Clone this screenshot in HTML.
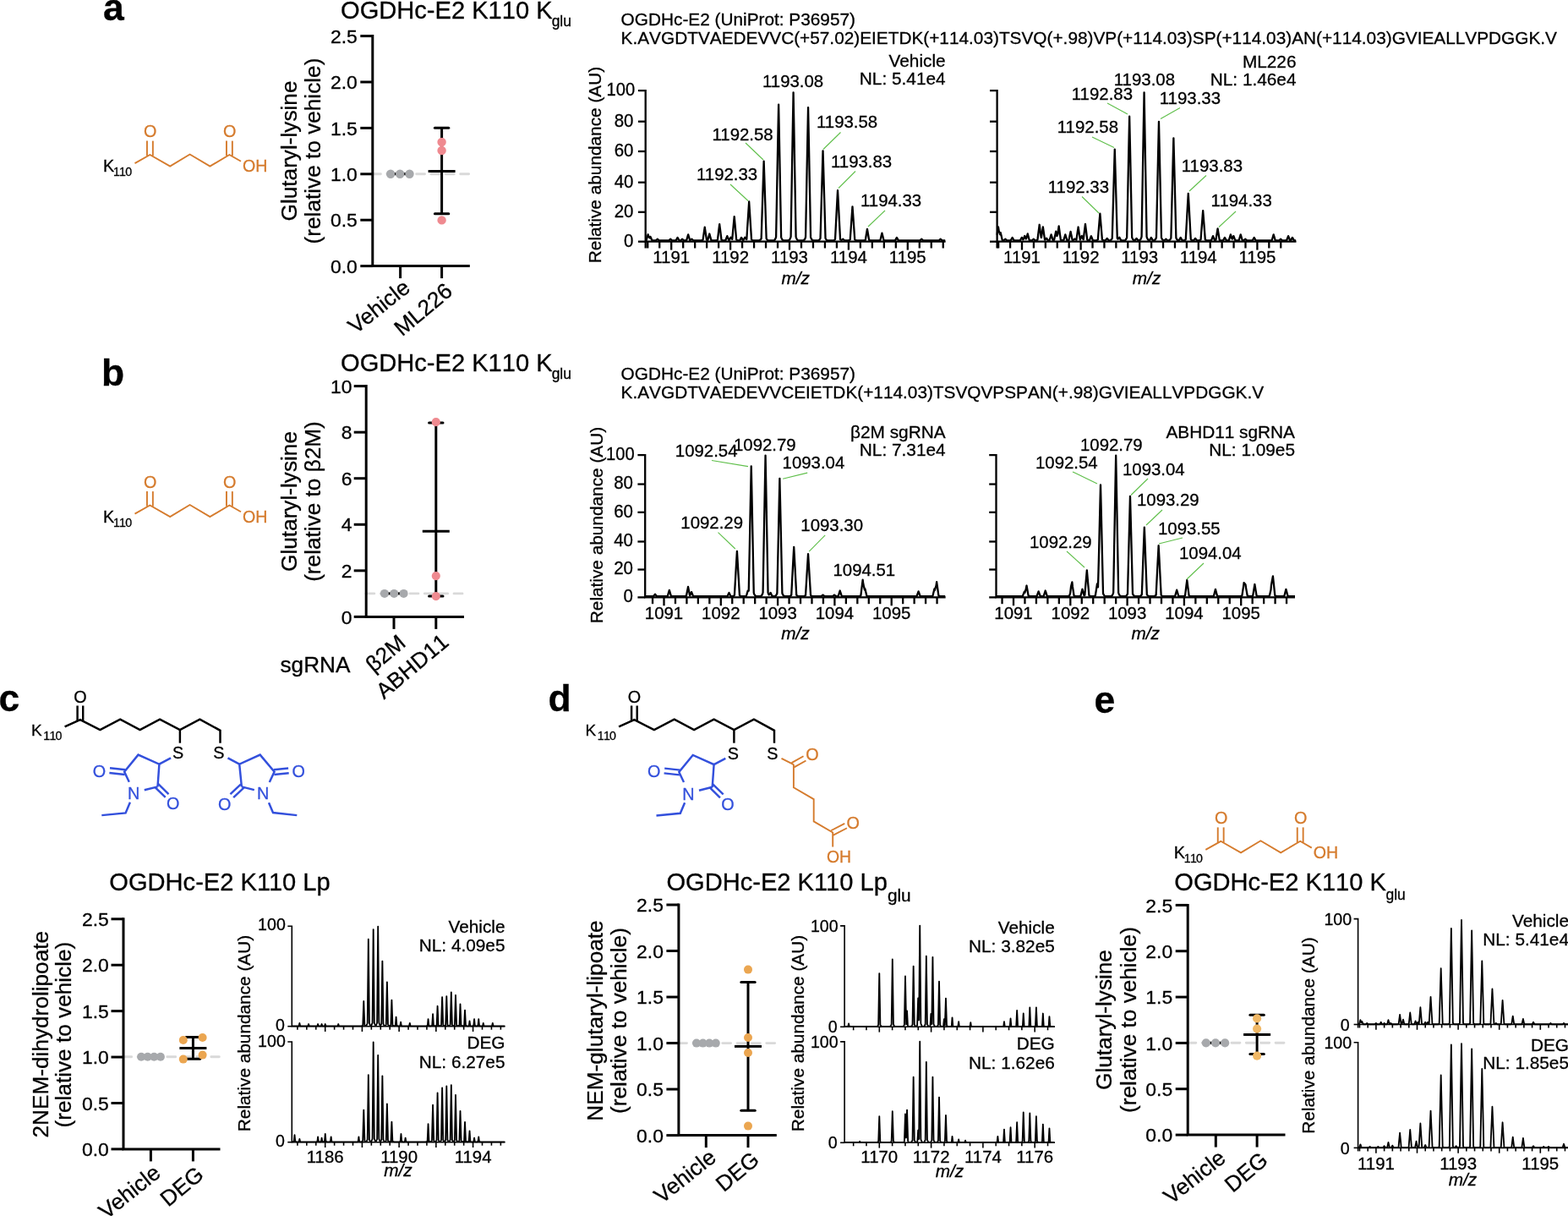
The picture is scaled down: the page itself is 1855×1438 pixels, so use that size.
<!DOCTYPE html>
<html lang="en"><head><meta charset="utf-8"><title>Figure</title>
<style>
html,body{margin:0;padding:0;background:#fff;}
body{width:1855px;height:1438px;overflow:hidden;}
svg{display:block;font-family:"Liberation Sans",sans-serif;font-kerning:none;}
text{stroke-width:0.3px;}
</style></head><body>
<svg width="1855" height="1438" viewBox="0 0 1855 1438">
<rect width="1855" height="1438" fill="#fff"/>
<text x="122.1" y="23.9" font-size="44.5" font-weight="bold" stroke="#000">a</text>
<text x="120.1" y="456" font-size="44.5" font-weight="bold" stroke="#000">b</text>
<text x="-1.5" y="841.2" font-size="44.5" font-weight="bold" stroke="#000">c</text>
<text x="648.5" y="841.2" font-size="44.5" font-weight="bold" stroke="#000">d</text>
<text x="1294.5" y="842.6" font-size="44.5" font-weight="bold" stroke="#000">e</text>
<g transform="translate(0 0)">
<text x="122" y="203" font-size="19.8" stroke="#000">K<tspan font-size="14.2" dy="5.2" dx="-1.3" letter-spacing="-0.7">110</tspan></text>
<path d="M159.5 193.1 L177.4 183 L201.2 196.6 L224.6 182.5 L248.4 196.6 L271.4 183 L285 190.8" fill="none" stroke="#d57b2d" stroke-width="1.9" stroke-linejoin="miter" stroke-linecap="butt"/>
<line x1="173.95" y1="166.6" x2="173.95" y2="184.3" stroke="#d57b2d" stroke-width="1.9"/>
<line x1="180.85" y1="166.6" x2="180.85" y2="184.3" stroke="#d57b2d" stroke-width="1.9"/>
<text x="177.8" y="162.1" font-size="19.8" text-anchor="middle" fill="#d57b2d" stroke="#d57b2d">O</text>
<line x1="267.95" y1="166.6" x2="267.95" y2="184.3" stroke="#d57b2d" stroke-width="1.9"/>
<line x1="274.85" y1="166.6" x2="274.85" y2="184.3" stroke="#d57b2d" stroke-width="1.9"/>
<text x="271.8" y="162.1" font-size="19.8" text-anchor="middle" fill="#d57b2d" stroke="#d57b2d">O</text>
<text x="287" y="203" font-size="19.6" fill="#d57b2d" stroke="#d57b2d">OH</text>
</g>
<line x1="440.51" y1="205.7" x2="554.6" y2="205.7" stroke="#d9d9d9" stroke-width="2.9" stroke-linecap="round" stroke-dasharray="9.93 7.43"/>
<path d="M440.8 41.1 V314.6 H555.8" fill="none" stroke="#000" stroke-width="3" stroke-linejoin="miter" stroke-linecap="butt"/>
<line x1="426.3" y1="42.6" x2="440.8" y2="42.6" stroke="#000" stroke-width="3"/>
<text x="422.8" y="50.8" font-size="22.9" text-anchor="end" stroke="#000">2.5</text>
<line x1="426.3" y1="97" x2="440.8" y2="97" stroke="#000" stroke-width="3"/>
<text x="422.8" y="105.2" font-size="22.9" text-anchor="end" stroke="#000">2.0</text>
<line x1="426.3" y1="151.4" x2="440.8" y2="151.4" stroke="#000" stroke-width="3"/>
<text x="422.8" y="159.6" font-size="22.9" text-anchor="end" stroke="#000">1.5</text>
<line x1="426.3" y1="205.8" x2="440.8" y2="205.8" stroke="#000" stroke-width="3"/>
<text x="422.8" y="214" font-size="22.9" text-anchor="end" stroke="#000">1.0</text>
<line x1="426.3" y1="260.2" x2="440.8" y2="260.2" stroke="#000" stroke-width="3"/>
<text x="422.8" y="268.4" font-size="22.9" text-anchor="end" stroke="#000">0.5</text>
<line x1="426.3" y1="314.6" x2="440.8" y2="314.6" stroke="#000" stroke-width="3"/>
<text x="422.8" y="322.8" font-size="22.9" text-anchor="end" stroke="#000">0.0</text>
<line x1="473.6" y1="314.6" x2="473.6" y2="329.1" stroke="#000" stroke-width="3"/>
<text x="486.8" y="343.1" font-size="26.2" text-anchor="end" transform="rotate(-38.6 486.8 343.1)" stroke="#000" style="font-kerning:normal">Vehicle</text>
<line x1="522.6" y1="314.6" x2="522.6" y2="329.1" stroke="#000" stroke-width="3"/>
<text x="537" y="347" font-size="26.2" text-anchor="end" transform="rotate(-40 537 347)" stroke="#000">ML226</text>
<text x="351" y="178.5" font-size="26.2" text-anchor="middle" transform="rotate(-90 351 178.5)" stroke="#000">Glutaryl-lysine</text>
<text x="378.6" y="178.5" font-size="26.2" text-anchor="middle" transform="rotate(-90 378.6 178.5)" stroke="#000">(relative to vehicle)</text>
<text x="403" y="21.5" font-size="29.1" stroke="#000">OGDHc-E2 K110 K<tspan font-size="17.5" dy="9" dx="-1">glu</tspan></text>
<line x1="462.1" y1="205.7" x2="484.5" y2="205.7" stroke="#000" stroke-width="3"/>
<circle cx="462.1" cy="205.7" r="5.2" fill="#a7a9ac"/>
<circle cx="473.2" cy="205.7" r="5.2" fill="#a7a9ac"/>
<circle cx="484.5" cy="205.7" r="5.2" fill="#a7a9ac"/>
<line x1="522.6" y1="151.3" x2="522.6" y2="252.8" stroke="#000" stroke-width="3"/>
<line x1="514.4" y1="151.3" x2="530.8" y2="151.3" stroke="#000" stroke-width="3" stroke-linecap="round"/>
<line x1="514.4" y1="252.8" x2="530.8" y2="252.8" stroke="#000" stroke-width="3" stroke-linecap="round"/>
<line x1="506.6" y1="202.6" x2="538.6" y2="202.6" stroke="#000" stroke-width="3"/>
<circle cx="522.6" cy="168" r="5.2" fill="#ef8a90"/>
<circle cx="522.6" cy="178" r="5.2" fill="#ef8a90"/>
<circle cx="522.6" cy="260.4" r="5.2" fill="#ef8a90"/>
<text x="734.6" y="30.3" font-size="20.8" stroke="#000">OGDHc-E2 (UniProt: P36957)</text>
<text x="734.6" y="52.3" font-size="20.8" stroke="#000">K.AVGDTVAEDEVVC(+57.02)EIETDK(+114.03)TSVQ(+.98)VP(+114.03)SP(+114.03)AN(+114.03)GVIEALLVPDGGK.V</text>
<text x="711.2" y="195" font-size="20.8" text-anchor="middle" transform="rotate(-90 711.2 195)" stroke="#000">Relative abundance (AU)</text>
<path d="M763.7 284.3L764.2 284.22L764.63 284.13L764.7 283.88L765.2 282.17L765.63 280.69L765.7 280.45L766.2 278.76L766.64 277.29L766.7 277.48L767.2 279.07L767.48 279.97L767.64 280.16L767.7 280.23L768.2 280.83L768.46 281.15L768.65 281.39L768.7 281.29L769.2 280.32L769.43 279.87L769.7 280.46L770.2 281.58L770.41 282.05L770.7 282.7L771.2 283.82L771.39 284.25L771.7 284.29L772.2 284.5L775.92 284.5L776.2 284.16L776.7 283.71L776.87 283.56L777.2 283.27L777.7 282.83L777.82 282.73L778.2 283.06L778.7 283.5L778.77 283.56L779.2 283.94L779.7 284.5L791.3 284.5L791.7 284.05L792.2 283.6L792.25 283.56L792.7 283.16L793.2 282.73L793.7 283.16L794.15 283.56L794.2 283.6L794.7 284.05L795.1 284.5L799.2 284.5L799.65 284.32L799.7 284.24L800.2 283.35L800.62 282.62L800.7 282.48L801.2 281.62L801.59 280.96L801.7 281.15L802.2 282L802.56 282.62L802.7 282.86L803.2 283.73L803.52 284.29L803.7 284.31L804.2 284.5L805.28 284.5L805.7 284L806.2 283.57L806.23 283.54L806.7 283.13L807.18 282.72L807.2 282.74L807.7 283.18L808.13 283.55L808.2 283.61L808.7 284.06L809.08 284.5L810.7 284.5L811.2 284.29L811.7 284.22L812.16 284.14L812.2 284.01L812.7 282.31L813.16 280.75L813.2 280.62L813.7 278.95L814.17 277.4L814.2 277.5L814.7 279.13L815.18 280.72L815.2 280.78L815.7 282.46L816.18 284.07L816.2 284.08L816.47 284.11L816.7 283.94L817.2 283.57L817.41 283.41L817.7 283.19L818.2 282.8L818.36 282.67L818.7 282.98L819.2 283.44L819.31 283.54L819.7 283.89L820.2 284.5L829.7 284.5L830.2 284.23L830.7 284.1L831.2 283.93L831.54 283.8L831.7 282.68L832.2 279.16L832.64 276.08L832.7 275.66L833.2 272.22L833.7 268.84L833.74 268.57L834.2 271.63L834.7 275.04L834.84 276.01L835.2 278.5L835.7 281.96L835.94 283.63L836.2 283.71L836.7 283.81L837.2 283.85L837.3 283.86L837.7 282.43L838.2 280.61L838.32 280.18L838.7 278.79L839.2 276.99L839.33 276.52L839.7 277.85L840.2 279.71L840.35 280.27L840.7 281.59L841.2 283.49L841.37 284.12L841.7 284.18L842.2 284.27L842.7 284.5L846.7 284.5L847.2 284.29L847.7 284.17L848.2 284L848.7 283.79L848.94 283.68L849.2 281.51L849.7 277.35L850.08 274.2L850.2 273.22L850.7 269.15L851.2 265.16L851.22 265.05L851.7 268.87L852.2 272.94L852.36 274.25L852.7 277.07L853.2 281.23L853.49 283.64L853.7 283.78L854.2 283.98L854.7 284.15L855.2 284.27L855.7 284.5L857.2 284.5L857.7 284.31L858.2 284.25L858.33 284.23L858.7 283.27L859.2 281.97L859.32 281.66L859.7 280.69L860.2 279.42L860.3 279.17L860.7 280.13L861.2 281.37L861.29 281.6L861.7 282.63L862.2 283.88L862.28 284.07L862.56 284.08L862.7 283.85L863.2 283L863.53 282.42L863.7 282.12L864.2 281.22L864.5 280.66L864.7 280.95L865.2 281.64L865.47 281.99L865.7 282.28L866.2 282.86L866.22 282.88L866.43 280.94L866.7 277.94L867.2 272.37L867.46 269.48L867.7 266.84L868.2 261.39L868.69 256.17L868.7 256.23L869.2 261.6L869.7 267.08L869.93 269.64L870.2 272.65L870.7 278.27L871.16 283.44L871.2 283.46L871.7 283.76L872.2 284L872.7 284.17L873.2 284.28L873.7 284.5L874.7 284.5L875.14 284.31L875.2 284.21L875.7 283.33L876.11 282.61L876.2 282.45L876.7 281.58L877.08 280.93L877.2 281.13L877.7 281.96L878.05 282.55L878.2 282.8L878.7 283.64L879.02 284.17L879.2 284.16L879.34 284.16L879.7 283.54L880.2 282.68L880.31 282.49L880.7 281.79L881.2 280.88L881.27 280.75L881.7 281.36L882.2 282.02L882.24 282.07L882.7 282.6L883.2 283.08L883.21 283.09L883.32 282.98L883.7 276.98L884.2 269.04L884.7 261.09L884.74 260.46L885.2 253.22L885.7 245.5L886.17 238.51L886.2 238.96L886.7 246.52L887.2 254.29L887.59 260.46L887.7 262.21L888.2 270.19L888.7 278.17L889.01 283.09L889.2 283.33L889.7 283.73L890.2 284.02L890.7 284.22L891.2 284.5L897.7 284.5L898.2 284.31L898.7 284.15L899.2 283.86L899.7 283.42L900.2 282.79L900.64 282.07L900.7 280.29L901.2 264.89L901.7 249.38L902.14 235.74L902.2 233.89L902.7 218.58L903.2 203.59L903.64 190.75L903.7 192.36L904.2 207.03L904.7 222.11L905.14 235.62L905.2 237.48L905.7 252.98L906.2 268.47L906.64 282L906.7 282.17L907.2 282.96L907.7 283.54L908.2 283.94L908.7 284.19L909.2 284.5L915.2 284.5L915.7 284.17L916.2 283.87L916.7 283.38L917.2 282.61L917.7 281.51L918.12 280.16L918.2 275.95L918.7 249.49L919.2 222.87L919.62 200.52L919.7 196.28L920.2 170.01L920.7 144.3L921.12 123.58L921.2 127.54L921.7 152.76L922.2 178.68L922.62 200.84L922.7 205.09L923.2 231.71L923.7 258.31L924.12 280.33L924.2 280.57L924.7 281.91L925.2 282.9L925.7 283.57L926.2 283.99L926.7 284.24L927.2 284.5L932.2 284.5L932.7 284.32L933.2 284.13L933.7 283.8L934.2 283.24L934.7 282.39L935.2 281.17L935.59 279.96L935.7 273.77L936.2 244.97L936.7 216L937.09 193.43L937.2 187.09L937.7 158.53L938.2 130.6L938.59 109.38L938.7 115.09L939.2 142.58L939.7 170.81L940.09 193.2L940.2 199.55L940.7 228.52L941.2 257.44L941.59 279.83L941.7 280.31L942.2 281.75L942.7 282.8L943.2 283.51L943.7 283.96L944.2 284.22L944.7 284.5L950.2 284.5L950.7 284.16L951.2 283.85L951.7 283.34L952.2 282.56L952.7 281.44L953.07 280.25L953.2 273.56L953.7 247.66L954.2 221.61L954.57 202.37L954.7 195.63L955.2 169.98L955.7 144.91L956.07 127.11L956.2 133.42L956.7 158.17L957.2 183.57L957.57 202.68L957.7 209.43L958.2 235.48L958.7 261.47L959.07 280.42L959.2 280.81L959.7 282.08L960.2 283.01L960.7 283.64L961.2 284.03L961.7 284.26L962.2 284.5L967.7 284.5L968.2 284.26L968.7 284.05L969.2 283.7L969.7 283.16L970.2 282.4L970.54 281.75L970.7 276.26L971.2 258.79L971.7 241.23L972.04 229.3L972.2 223.72L972.7 206.44L973.2 189.56L973.54 178.37L973.7 183.47L974.2 200.18L974.7 217.32L975.04 229.16L975.2 234.77L975.7 252.33L976.2 269.85L976.54 281.67L976.7 282.06L977.2 282.9L977.7 283.52L978.2 283.94L978.7 284.19L979.2 284.5L985.7 284.5L986.2 284.24L986.7 284.04L987.2 283.73L987.7 283.3L988.02 282.9L988.2 279.41L988.7 269.66L989.2 259.85L989.52 253.58L989.7 250.08L990.2 240.44L990.7 231.03L991.02 225.26L991.2 228.55L991.7 237.89L992.2 247.47L992.52 253.69L992.7 257.21L993.2 267.01L993.7 276.78L994.02 282.93L994.2 283.12L994.7 283.57L995.2 283.89L995.41 283.98L995.7 283.84L996.2 283.54L996.36 283.42L996.7 283.17L997.2 282.78L997.31 282.7L997.7 283.05L998.2 283.5L998.26 283.56L998.7 283.95L999.2 284.5L1003.2 284.5L1003.7 284.32L1004.2 284.18L1004.7 283.97L1005.2 283.67L1005.7 283.29L1005.77 283.22L1006.2 276.99L1006.7 269.71L1007.13 263.48L1007.2 262.47L1007.7 255.32L1008.2 248.32L1008.49 244.35L1008.7 247.16L1009.2 254.13L1009.7 261.26L1009.85 263.42L1010.2 268.49L1010.7 275.77L1011.2 283.02L1011.21 283.16L1011.7 283.61L1012.2 283.92L1012.7 284.15L1013.2 284.3L1013.7 284.5L1021.7 284.5L1022.2 284.31L1022.7 284.21L1023.2 284.08L1023.7 283.93L1023.81 283.89L1024.2 281.52L1024.7 278.45L1024.89 277.29L1025.2 275.42L1025.7 272.44L1025.97 270.89L1026.2 272.24L1026.7 275.21L1027.04 277.27L1027.2 278.24L1027.7 281.31L1028.12 283.89L1028.2 283.92L1028.7 284.07L1029.2 284.2L1029.7 284.31L1030.2 284.5L1039.7 284.5L1040.2 284.31L1040.7 284.22L1041.2 284.12L1041.39 284.08L1041.7 282.79L1042.2 280.71L1042.42 279.8L1042.7 278.64L1043.2 276.62L1043.44 275.66L1043.7 276.68L1044.2 278.71L1044.47 279.82L1044.7 280.77L1045.2 282.86L1045.49 284.07L1045.7 284.13L1046.2 284.23L1046.7 284.31L1047.2 284.5L1058.7 284.5L1058.98 284.32L1059.2 283.94L1059.7 283.06L1059.95 282.62L1060.2 282.18L1060.7 281.33L1060.92 280.97L1061.2 281.44L1061.7 282.3L1061.88 282.61L1062.2 283.17L1062.7 284.05L1062.85 284.32L1063.2 284.5L1088.38 284.5L1088.7 284.12L1089.2 283.67L1089.33 283.56L1089.7 283.23L1090.2 282.79L1090.28 282.73L1090.7 283.1L1091.2 283.54L1091.22 283.56L1091.7 283.98L1092.17 284.5L1110.74 284.5L1111.2 284L1111.69 283.56L1111.7 283.55L1112.2 283.11L1112.64 282.73L1112.7 282.78L1113.2 283.21L1113.59 283.56L1113.7 283.66L1114.2 284.1L1114.54 284.5L1118.2 284.5" fill="none" stroke="#000" stroke-width="2.3" stroke-linejoin="round"/>
<path d="M754.9 107.2 H763.7 V285.7 H1118.6" fill="none" stroke="#000" stroke-width="2.3" stroke-linejoin="miter" stroke-linecap="butt"/>
<line x1="754.9" y1="285.7" x2="763.7" y2="285.7" stroke="#000" stroke-width="2.3"/>
<line x1="763.7" y1="285.7" x2="763.7" y2="293.5" stroke="#000" stroke-width="2.3"/>
<line x1="754.9" y1="250.8" x2="763.7" y2="250.8" stroke="#000" stroke-width="2.3"/>
<line x1="754.9" y1="215.7" x2="763.7" y2="215.7" stroke="#000" stroke-width="2.3"/>
<line x1="754.9" y1="179" x2="763.7" y2="179" stroke="#000" stroke-width="2.3"/>
<line x1="754.9" y1="143.7" x2="763.7" y2="143.7" stroke="#000" stroke-width="2.3"/>
<text x="749.5" y="291.6" font-size="21.2" text-anchor="end" stroke="#000" style="font-kerning:normal" textLength="11.4" lengthAdjust="spacingAndGlyphs">0</text>
<text x="749.5" y="256.7" font-size="21.2" text-anchor="end" stroke="#000" style="font-kerning:normal" textLength="22.8" lengthAdjust="spacingAndGlyphs">20</text>
<text x="749.5" y="221.6" font-size="21.2" text-anchor="end" stroke="#000" style="font-kerning:normal" textLength="22.8" lengthAdjust="spacingAndGlyphs">40</text>
<text x="749.5" y="184.9" font-size="21.2" text-anchor="end" stroke="#000" style="font-kerning:normal" textLength="22.8" lengthAdjust="spacingAndGlyphs">60</text>
<text x="749.5" y="149.6" font-size="21.2" text-anchor="end" stroke="#000" style="font-kerning:normal" textLength="22.8" lengthAdjust="spacingAndGlyphs">80</text>
<text x="751.1" y="113.1" font-size="21.2" text-anchor="end" stroke="#000" style="font-kerning:normal" textLength="33.6" lengthAdjust="spacingAndGlyphs">100</text>
<line x1="766.24" y1="285.7" x2="766.24" y2="293.5" stroke="#000" stroke-width="2.3"/>
<line x1="780.22" y1="285.7" x2="780.22" y2="293.5" stroke="#000" stroke-width="2.3"/>
<line x1="794.2" y1="285.7" x2="794.2" y2="295.6" stroke="#000" stroke-width="2.3"/>
<line x1="808.18" y1="285.7" x2="808.18" y2="293.5" stroke="#000" stroke-width="2.3"/>
<line x1="822.16" y1="285.7" x2="822.16" y2="293.5" stroke="#000" stroke-width="2.3"/>
<line x1="836.14" y1="285.7" x2="836.14" y2="293.5" stroke="#000" stroke-width="2.3"/>
<line x1="850.12" y1="285.7" x2="850.12" y2="293.5" stroke="#000" stroke-width="2.3"/>
<line x1="864.1" y1="285.7" x2="864.1" y2="295.6" stroke="#000" stroke-width="2.3"/>
<line x1="878.08" y1="285.7" x2="878.08" y2="293.5" stroke="#000" stroke-width="2.3"/>
<line x1="892.06" y1="285.7" x2="892.06" y2="293.5" stroke="#000" stroke-width="2.3"/>
<line x1="906.04" y1="285.7" x2="906.04" y2="293.5" stroke="#000" stroke-width="2.3"/>
<line x1="920.02" y1="285.7" x2="920.02" y2="293.5" stroke="#000" stroke-width="2.3"/>
<line x1="934" y1="285.7" x2="934" y2="295.6" stroke="#000" stroke-width="2.3"/>
<line x1="947.98" y1="285.7" x2="947.98" y2="293.5" stroke="#000" stroke-width="2.3"/>
<line x1="961.96" y1="285.7" x2="961.96" y2="293.5" stroke="#000" stroke-width="2.3"/>
<line x1="975.94" y1="285.7" x2="975.94" y2="293.5" stroke="#000" stroke-width="2.3"/>
<line x1="989.92" y1="285.7" x2="989.92" y2="293.5" stroke="#000" stroke-width="2.3"/>
<line x1="1003.9" y1="285.7" x2="1003.9" y2="295.6" stroke="#000" stroke-width="2.3"/>
<line x1="1017.88" y1="285.7" x2="1017.88" y2="293.5" stroke="#000" stroke-width="2.3"/>
<line x1="1031.86" y1="285.7" x2="1031.86" y2="293.5" stroke="#000" stroke-width="2.3"/>
<line x1="1045.84" y1="285.7" x2="1045.84" y2="293.5" stroke="#000" stroke-width="2.3"/>
<line x1="1059.82" y1="285.7" x2="1059.82" y2="293.5" stroke="#000" stroke-width="2.3"/>
<line x1="1073.8" y1="285.7" x2="1073.8" y2="295.6" stroke="#000" stroke-width="2.3"/>
<line x1="1087.78" y1="285.7" x2="1087.78" y2="293.5" stroke="#000" stroke-width="2.3"/>
<line x1="1101.76" y1="285.7" x2="1101.76" y2="293.5" stroke="#000" stroke-width="2.3"/>
<line x1="1115.74" y1="285.7" x2="1115.74" y2="293.5" stroke="#000" stroke-width="2.3"/>
<text x="794.2" y="311.2" font-size="20.4" text-anchor="middle" stroke="#000" style="font-kerning:normal">1191</text>
<text x="864.1" y="311.2" font-size="20.4" text-anchor="middle" stroke="#000" style="font-kerning:normal">1192</text>
<text x="934" y="311.2" font-size="20.4" text-anchor="middle" stroke="#000" style="font-kerning:normal">1193</text>
<text x="1003.9" y="311.2" font-size="20.4" text-anchor="middle" stroke="#000" style="font-kerning:normal">1194</text>
<text x="1073.8" y="311.2" font-size="20.4" text-anchor="middle" stroke="#000" style="font-kerning:normal">1195</text>
<text x="941.15" y="335.7" font-size="20.8" text-anchor="middle" font-style="italic" stroke="#000">m/z</text>
<text x="842.5" y="165.7" font-size="20.4" stroke="#000" style="font-kerning:normal">1192.58</text>
<text x="824" y="213.2" font-size="20.4" stroke="#000" style="font-kerning:normal">1192.33</text>
<text x="902" y="103.2" font-size="20.4" stroke="#000" style="font-kerning:normal">1193.08</text>
<text x="966" y="151.2" font-size="20.4" stroke="#000" style="font-kerning:normal">1193.58</text>
<text x="983" y="197.7" font-size="20.4" stroke="#000" style="font-kerning:normal">1193.83</text>
<text x="1018" y="243.7" font-size="20.4" stroke="#000" style="font-kerning:normal">1194.33</text>
<line x1="882" y1="169" x2="903" y2="189" stroke="#5fbf4a" stroke-width="1.1"/>
<line x1="864" y1="218" x2="885" y2="237.5" stroke="#5fbf4a" stroke-width="1.1"/>
<line x1="974" y1="176.5" x2="994.5" y2="156.5" stroke="#5fbf4a" stroke-width="1.1"/>
<line x1="992" y1="222.5" x2="1012" y2="202.5" stroke="#5fbf4a" stroke-width="1.1"/>
<line x1="1027" y1="268" x2="1047" y2="249" stroke="#5fbf4a" stroke-width="1.1"/>
<text x="1118.6" y="78.8" font-size="20.8" text-anchor="end" stroke="#000" style="font-kerning:normal">Vehicle</text>
<text x="1118.6" y="100.1" font-size="20.8" text-anchor="end" stroke="#000">NL: 5.41e4</text>
<path d="M1179.6 277.8L1179.86 275.96L1180.1 274.27L1180.6 270.78L1180.96 268.3L1181.1 269.21L1181.6 272.49L1181.69 273.09L1182.06 274.12L1182.1 274.23L1182.6 275.65L1182.72 276L1183.1 277.11L1183.16 277.29L1183.6 275.69L1183.74 275.18L1184.1 276.7L1184.6 278.86L1184.77 279.59L1185.1 281.02L1185.6 283.16L1185.79 283.97L1186.1 284.06L1186.6 284.16L1187.1 284.24L1187.41 284.27L1187.6 284.13L1188.1 283.73L1188.36 283.51L1188.6 283.31L1189.1 282.89L1189.31 282.72L1189.6 282.97L1190.1 283.41L1190.26 283.55L1190.6 283.86L1191.1 284.31L1191.21 284.5L1195.6 284.5L1195.73 284.32L1196.1 283.67L1196.6 282.79L1196.7 282.61L1197.1 281.92L1197.6 281.07L1197.66 280.97L1198.1 281.7L1198.6 282.56L1198.63 282.62L1199.1 283.44L1199.6 284.32L1200.1 284.5L1206.6 284.5L1206.86 284.31L1207.1 283.89L1207.6 283L1207.83 282.59L1208.1 282.11L1208.6 281.22L1208.8 280.87L1209.1 281.35L1209.6 282.15L1209.77 282.42L1210.1 282.95L1210.31 283.28L1210.6 283.03L1210.74 282.91L1211.1 281.99L1211.29 281.51L1211.6 280.72L1212.1 279.45L1212.28 278.99L1212.6 279.76L1213.1 280.96L1213.27 281.37L1213.6 282.17L1213.73 282.48L1214.1 282.04L1214.25 281.86L1214.6 280.6L1214.74 280.09L1215.1 278.79L1215.6 277.01L1215.76 276.44L1216.1 277.7L1216.6 279.58L1216.78 280.26L1217.1 281.47L1217.6 283.38L1217.79 284.1L1218.1 284.16L1218.6 284.25L1219.1 284.31L1219.6 284.5L1220.82 284.5L1221.1 284.14L1221.6 283.7L1221.77 283.55L1222.1 283.26L1222.6 282.83L1222.72 282.73L1223.1 283.05L1223.6 283.48L1223.67 283.54L1224.1 283.91L1224.6 284.5L1224.62 284.5L1225.1 284.32L1225.6 284.26L1226.1 284.17L1226.6 284.02L1227.1 283.84L1227.42 283.7L1227.6 282.26L1228.1 278.25L1228.55 274.65L1228.6 274.25L1229.1 270.29L1229.6 266.39L1229.68 265.77L1230.1 268.91L1230.6 272.69L1230.81 274.29L1231.1 276.5L1231.6 280.32L1231.65 280.7L1231.94 281L1232.1 279.95L1232.6 276.64L1232.75 275.65L1233.1 273.33L1233.6 270.05L1233.86 268.41L1234.1 270.04L1234.6 273.49L1234.96 275.99L1235.1 276.96L1235.6 280.46L1236.06 283.67L1236.1 283.68L1236.12 283.68L1236.6 283.22L1237.07 282.74L1237.1 282.71L1237.6 282.17L1238.03 281.69L1238.1 281.78L1238.6 282.48L1238.99 283L1239.1 283.15L1239.6 283.8L1239.95 284.25L1240.1 284.24L1240.6 284.22L1241.1 284.17L1241.59 284.11L1241.6 284.07L1242.1 282.39L1242.59 280.74L1242.6 280.7L1243.1 279.04L1243.6 277.4L1244.1 279.02L1244.6 280.66L1244.61 280.69L1245.1 282.31L1245.6 283.94L1245.61 283.97L1246.1 283.97L1246.6 283.93L1247.08 283.85L1247.1 283.76L1247.6 281.31L1248.1 278.84L1248.12 278.75L1248.6 276.37L1249.1 273.91L1249.17 273.58L1249.6 275.49L1250.1 277.73L1250.21 278.22L1250.43 279.19L1250.6 278.77L1251.1 277.55L1251.26 277.15L1251.54 275.17L1251.6 274.75L1252.1 271.26L1252.6 267.82L1252.65 267.51L1253.1 270.74L1253.6 274.39L1253.76 275.56L1254.1 278.06L1254.6 281.76L1254.87 283.75L1255.1 283.84L1255.6 284.01L1256.1 284.13L1256.6 284.21L1257.1 284.23L1257.6 284.21L1258.1 284.16L1258.29 284.13L1258.6 283.09L1259.1 281.4L1259.3 280.73L1259.6 279.73L1260.1 278.08L1260.3 277.43L1260.6 278.37L1261.1 280.02L1261.31 280.72L1261.6 281.68L1262.1 283.35L1262.32 284.07L1262.6 284.09L1263.1 284.1L1263.6 284.07L1264.1 284.01L1264.48 283.94L1264.6 283.36L1265.1 280.92L1265.52 278.87L1265.6 278.48L1266.1 276.08L1266.57 273.88L1266.6 274.02L1267.1 276.38L1267.6 278.79L1267.61 278.84L1268.1 281.23L1268.6 283.68L1268.66 283.95L1269.1 284.04L1269.54 284.12L1269.6 284.07L1270.1 283.7L1270.49 283.39L1270.6 283.3L1271.1 282.86L1271.44 282.54L1271.6 282.66L1272.1 283.01L1272.39 283.2L1272.6 283.33L1273.1 283.61L1273.34 283.74L1273.41 283.71L1273.6 282.41L1274.1 278.91L1274.52 275.99L1274.6 275.43L1275.1 271.99L1275.6 268.61L1275.62 268.53L1276.1 271.74L1276.6 275.14L1276.72 275.96L1277.1 278.57L1277.6 282.03L1277.82 283.52L1278.1 282.89L1278.6 281.75L1278.8 281.28L1279.1 280.57L1279.6 279.35L1279.79 278.87L1280.1 279.61L1280.6 280.79L1280.78 281.2L1281.1 281.92L1281.6 283.02L1281.69 283.21L1281.77 282.75L1282.1 280.04L1282.6 275.95L1282.83 274.08L1283.1 271.89L1283.6 267.88L1283.97 265L1284.1 266.03L1284.6 270.05L1285.1 274.14L1285.11 274.23L1285.6 278.29L1286.1 282.44L1286.25 283.66L1286.6 283.8L1287.1 283.97L1287.6 284.09L1288.1 284.16L1288.6 284.18L1288.95 284.17L1289.1 283.8L1289.6 282.53L1289.94 281.67L1290.1 281.26L1290.6 280L1290.93 279.19L1291.1 279.61L1291.6 280.88L1291.92 281.69L1292.1 282.16L1292.6 283.45L1292.9 284.23L1293.1 284.26L1293.6 284.5L1296.6 284.5L1297.1 284.23L1297.6 284.07L1298.1 283.83L1298.6 283.52L1298.82 283.37L1299.1 279.98L1299.6 273.83L1300.1 267.71L1300.6 261.67L1301.1 255.75L1301.37 252.66L1301.6 255.33L1302.1 261.24L1302.6 267.27L1302.64 267.76L1303.1 273.39L1303.6 279.54L1303.91 283.34L1304.1 283.49L1304.6 283.8L1305.1 284.04L1305.6 284.2L1306.1 284.3L1306.6 284.5L1307.8 284.5L1308.1 283.96L1308.6 283.3L1308.76 283.09L1309.1 282.64L1309.6 282L1309.72 281.85L1310.1 282.33L1310.6 282.99L1310.68 283.09L1311.1 283.64L1311.6 284.3L1311.64 284.5L1312.6 284.5L1313.1 284.29L1313.6 284.16L1314.1 283.91L1314.6 283.5L1315.1 282.89L1315.6 282.03L1315.77 281.62L1316.1 269.96L1316.6 252.15L1317.1 234.3L1317.27 228.24L1317.6 216.56L1318.1 199.11L1318.6 182.12L1318.77 176.59L1319.1 187.63L1319.6 204.78L1320.1 222.32L1320.27 228.35L1320.6 240.1L1321.1 257.93L1321.6 275.66L1321.77 281.58L1322.1 282.19L1322.4 282.66L1322.6 282.59L1323.1 282.26L1323.37 282L1323.6 281.75L1324.1 281.11L1324.34 280.79L1324.6 281.28L1325.1 282.21L1325.3 282.57L1325.6 283.11L1326.1 284.01L1326.27 284.31L1326.6 284.5L1330.1 284.5L1330.6 284.25L1331.1 284.03L1331.6 283.63L1332.1 283.01L1332.6 282.11L1333.1 280.88L1333.17 280.59L1333.6 259.88L1334.1 235.63L1334.6 211.34L1334.67 207.95L1335.1 187.27L1335.6 163.64L1336.1 140.66L1336.17 137.68L1336.6 157.32L1337.1 180.79L1337.6 204.76L1337.67 208.15L1338.1 229.01L1338.6 253.3L1339.1 277.42L1339.17 280.68L1339.6 281.79L1340.1 282.78L1340.6 283.46L1341.1 283.89L1341.6 284.13L1342.1 284.25L1342.6 284.3L1343.1 283.67L1343.56 283.08L1343.6 283.03L1344.1 282.38L1344.52 281.85L1344.6 281.95L1345.1 282.59L1345.48 283.09L1345.6 283.24L1346.1 283.9L1346.44 284.5L1347.1 284.5L1347.6 284.27L1348.1 284.12L1348.6 283.83L1349.1 283.33L1349.6 282.53L1350.1 281.38L1350.57 279.83L1350.6 278.12L1351.1 249.36L1351.6 220.4L1352.07 193.2L1352.1 191.47L1352.6 162.84L1353.1 134.8L1353.57 109.38L1353.6 110.99L1354.1 138.35L1354.6 166.47L1355.07 193.43L1355.1 195.16L1355.6 224.11L1356.1 253.06L1356.57 279.95L1356.6 280.05L1357.1 281.54L1357.6 282.64L1358.1 283.38L1358.6 283.84L1359.1 284.09L1359.6 284.21L1359.98 284.24L1360.1 284.05L1360.6 283.21L1360.95 282.61L1361.1 282.35L1361.6 281.5L1361.92 280.96L1362.1 281.26L1362.6 282.12L1362.89 282.62L1363.1 282.99L1363.6 283.86L1363.86 284.3L1364.1 284.31L1364.6 284.31L1365.1 284.27L1365.6 284.14L1366.1 283.89L1366.6 283.44L1367.1 282.76L1367.6 281.77L1367.97 280.75L1368.1 274.78L1368.6 251.64L1369.1 228.37L1369.47 211.18L1369.6 205.17L1370.1 182.25L1370.6 159.85L1370.97 143.87L1371.1 149.51L1371.6 171.61L1372.1 194.3L1372.47 211.37L1372.6 217.4L1373.1 240.66L1373.6 263.88L1373.97 280.85L1374.1 281.19L1374.6 282.33L1375.1 283.15L1375.6 283.7L1376.1 284.04L1376.6 284.23L1377.1 284.32L1377.42 284.5L1377.6 284.2L1378.1 283.78L1378.37 283.55L1378.6 283.35L1379.1 282.92L1379.32 282.73L1379.6 282.97L1380.1 283.41L1380.27 283.56L1380.6 283.85L1381.1 284.29L1381.22 284.5L1382.1 284.5L1382.6 284.31L1383.1 284.17L1383.6 283.92L1384.1 283.5L1384.6 282.85L1385.1 281.95L1385.37 281.27L1385.6 272.15L1386.1 252.18L1386.6 232.13L1386.87 221.33L1387.1 212.17L1387.6 192.5L1388.1 173.31L1388.37 163.33L1388.6 171.95L1389.1 191.1L1389.6 210.74L1389.87 221.48L1390.1 230.69L1390.6 250.74L1391.1 270.71L1391.37 281.35L1391.6 281.86L1392.1 282.78L1392.6 283.43L1393.1 283.85L1393.6 284.1L1394.1 284.22L1394.6 284.26L1394.78 284.27L1395.1 283.73L1395.6 282.87L1395.75 282.61L1396.1 282.01L1396.6 281.16L1396.72 280.96L1397.1 281.6L1397.6 282.47L1397.69 282.62L1398.1 283.34L1398.6 284.22L1398.66 284.32L1399.1 284.5L1400.1 284.5L1400.6 284.3L1401.1 284.18L1401.6 283.98L1402.1 283.66L1402.6 283.22L1402.77 283.01L1403.1 276.99L1403.6 267.79L1404.1 258.57L1404.27 255.45L1404.6 249.41L1405.1 240.41L1405.6 231.63L1405.77 228.78L1406.1 234.48L1406.6 243.34L1407.1 252.41L1407.27 255.52L1407.6 261.6L1408.1 270.82L1408.6 279.99L1408.77 283.05L1409.1 283.38L1409.6 283.77L1410.1 284.04L1410.6 284.21L1411.1 284.3L1411.6 284.5L1412.2 284.5L1412.6 283.82L1413.1 283.17L1413.16 283.09L1413.6 282.51L1414.1 281.87L1414.12 281.85L1414.6 282.46L1415.08 283.09L1415.1 283.12L1415.6 283.78L1416.04 284.5L1418.1 284.5L1418.6 284.27L1419.1 284.13L1419.6 283.92L1420.1 283.62L1420.55 283.27L1420.6 282.61L1421.1 275.98L1421.6 269.34L1421.86 265.9L1422.1 262.75L1422.6 256.27L1423.1 249.95L1423.17 249.12L1423.6 254.54L1424.1 260.98L1424.48 265.96L1424.6 267.54L1425.1 274.17L1425.6 280.81L1425.79 283.3L1426.1 283.53L1426.6 283.85L1427.1 284.09L1427.6 284.26L1428.1 284.5L1432.1 284.5L1432.6 284.29L1433.03 284.23L1433.1 284.05L1433.6 282.74L1434.01 281.68L1434.1 281.45L1434.6 280.18L1435 279.17L1435.1 279.41L1435.6 280.64L1435.99 281.61L1436.1 281.88L1436.6 283.11L1436.97 284L1437.1 284L1437.6 283.94L1438.1 283.84L1438.4 283.77L1438.6 282.54L1439.1 279.39L1439.49 276.95L1439.6 276.26L1440.1 273.17L1440.57 270.34L1440.6 270.52L1441.1 273.58L1441.6 276.69L1441.65 277.01L1442.1 279.85L1442.6 283.03L1442.73 283.85L1443.1 283.99L1443.6 284.13L1444.1 284.25L1444.6 284.5L1446.6 284.5L1446.98 284.32L1447.1 284.11L1447.6 283.23L1447.95 282.62L1448.1 282.36L1448.6 281.5L1448.92 280.96L1449.1 281.26L1449.6 282.12L1449.89 282.62L1450.1 282.98L1450.6 283.85L1450.86 284.3L1451.1 284.31L1451.6 284.5L1452.1 284.5L1452.6 284.3L1453.1 284.25L1453.6 284.18L1453.87 284.13L1454.1 283.34L1454.6 281.64L1454.87 280.72L1455.1 279.94L1455.6 278.26L1455.88 277.33L1456.1 278.02L1456.6 279.62L1456.89 280.56L1457.1 281.24L1457.39 282.18L1457.6 282.35L1457.89 282.58L1458.1 282.08L1458.37 281.43L1458.6 280.88L1459.1 279.68L1459.36 279.07L1459.6 279.69L1460.1 280.99L1460.35 281.64L1460.6 282.3L1461.1 283.61L1461.33 284.21L1461.6 284.26L1462.1 284.32L1462.6 284.5L1464.1 284.5L1464.6 284.32L1465.1 284.25L1465.6 284.17L1465.7 284.16L1466.1 282.79L1466.6 281.1L1466.71 280.73L1467.1 279.43L1467.6 277.78L1467.71 277.42L1468.1 278.68L1468.6 280.34L1468.72 280.74L1469.1 282.02L1469.6 283.71L1469.72 284.12L1470.1 284.18L1470.6 284.24L1471.1 284.29L1471.38 284.3L1471.6 284.13L1472.1 283.71L1472.33 283.52L1472.6 283.29L1473.1 282.87L1473.28 282.72L1473.6 283L1474.1 283.44L1474.23 283.56L1474.6 283.89L1475.1 284.5L1481.78 284.5L1482.1 283.76L1482.6 282.89L1482.75 282.62L1483.1 282.02L1483.6 281.16L1483.72 280.96L1484.1 281.6L1484.6 282.47L1484.69 282.62L1485.1 283.34L1485.6 284.22L1485.66 284.5L1503.6 284.5L1504.1 284.25L1504.6 284.17L1504.68 284.14L1505.1 282.71L1505.6 281.02L1505.68 280.75L1506.1 279.35L1506.6 277.71L1506.69 277.43L1507.1 278.77L1507.6 280.43L1507.69 280.73L1508.1 282.12L1508.6 283.82L1508.7 284.16L1509.1 284.22L1509.6 284.3L1510.1 284.5L1513.14 284.5L1513.6 284L1514.09 283.56L1514.1 283.55L1514.6 283.11L1515.04 282.73L1515.1 282.78L1515.6 283.22L1515.99 283.56L1516.1 283.66L1516.6 284.11L1516.94 284.5L1521.1 284.5L1521.6 284.3L1522.1 284.24L1522.11 284.24L1522.6 282.97L1523.1 281.68L1523.6 280.4L1524.09 279.18L1524.1 279.2L1524.6 280.44L1525.07 281.63L1525.1 281.7L1525.6 282.97L1526.06 284.13L1526.1 284.14L1526.6 284.17L1527.02 284.18L1527.1 284.05L1527.6 283.22L1527.99 282.56L1528.1 282.37L1528.6 281.54L1528.96 280.94L1529.1 281.18L1529.6 282.04L1529.93 282.62L1530.1 282.92L1530.6 283.8L1530.9 284.32L1531.1 284.5L1533.1 284.5" fill="none" stroke="#000" stroke-width="2.3" stroke-linejoin="round"/>
<path d="M1171 107.2 H1179.6 V285.7 H1533.5" fill="none" stroke="#000" stroke-width="2.3" stroke-linejoin="miter" stroke-linecap="butt"/>
<line x1="1171" y1="285.7" x2="1179.6" y2="285.7" stroke="#000" stroke-width="2.3"/>
<line x1="1179.6" y1="285.7" x2="1179.6" y2="293.5" stroke="#000" stroke-width="2.3"/>
<line x1="1171" y1="250.8" x2="1179.6" y2="250.8" stroke="#000" stroke-width="2.3"/>
<line x1="1171" y1="215.7" x2="1179.6" y2="215.7" stroke="#000" stroke-width="2.3"/>
<line x1="1171" y1="179" x2="1179.6" y2="179" stroke="#000" stroke-width="2.3"/>
<line x1="1171" y1="143.7" x2="1179.6" y2="143.7" stroke="#000" stroke-width="2.3"/>
<line x1="1181.16" y1="285.7" x2="1181.16" y2="293.5" stroke="#000" stroke-width="2.3"/>
<line x1="1195.08" y1="285.7" x2="1195.08" y2="293.5" stroke="#000" stroke-width="2.3"/>
<line x1="1209" y1="285.7" x2="1209" y2="295.6" stroke="#000" stroke-width="2.3"/>
<line x1="1222.92" y1="285.7" x2="1222.92" y2="293.5" stroke="#000" stroke-width="2.3"/>
<line x1="1236.84" y1="285.7" x2="1236.84" y2="293.5" stroke="#000" stroke-width="2.3"/>
<line x1="1250.76" y1="285.7" x2="1250.76" y2="293.5" stroke="#000" stroke-width="2.3"/>
<line x1="1264.68" y1="285.7" x2="1264.68" y2="293.5" stroke="#000" stroke-width="2.3"/>
<line x1="1278.6" y1="285.7" x2="1278.6" y2="295.6" stroke="#000" stroke-width="2.3"/>
<line x1="1292.52" y1="285.7" x2="1292.52" y2="293.5" stroke="#000" stroke-width="2.3"/>
<line x1="1306.44" y1="285.7" x2="1306.44" y2="293.5" stroke="#000" stroke-width="2.3"/>
<line x1="1320.36" y1="285.7" x2="1320.36" y2="293.5" stroke="#000" stroke-width="2.3"/>
<line x1="1334.28" y1="285.7" x2="1334.28" y2="293.5" stroke="#000" stroke-width="2.3"/>
<line x1="1348.2" y1="285.7" x2="1348.2" y2="295.6" stroke="#000" stroke-width="2.3"/>
<line x1="1362.12" y1="285.7" x2="1362.12" y2="293.5" stroke="#000" stroke-width="2.3"/>
<line x1="1376.04" y1="285.7" x2="1376.04" y2="293.5" stroke="#000" stroke-width="2.3"/>
<line x1="1389.96" y1="285.7" x2="1389.96" y2="293.5" stroke="#000" stroke-width="2.3"/>
<line x1="1403.88" y1="285.7" x2="1403.88" y2="293.5" stroke="#000" stroke-width="2.3"/>
<line x1="1417.8" y1="285.7" x2="1417.8" y2="295.6" stroke="#000" stroke-width="2.3"/>
<line x1="1431.72" y1="285.7" x2="1431.72" y2="293.5" stroke="#000" stroke-width="2.3"/>
<line x1="1445.64" y1="285.7" x2="1445.64" y2="293.5" stroke="#000" stroke-width="2.3"/>
<line x1="1459.56" y1="285.7" x2="1459.56" y2="293.5" stroke="#000" stroke-width="2.3"/>
<line x1="1473.48" y1="285.7" x2="1473.48" y2="293.5" stroke="#000" stroke-width="2.3"/>
<line x1="1487.4" y1="285.7" x2="1487.4" y2="295.6" stroke="#000" stroke-width="2.3"/>
<line x1="1501.32" y1="285.7" x2="1501.32" y2="293.5" stroke="#000" stroke-width="2.3"/>
<line x1="1515.24" y1="285.7" x2="1515.24" y2="293.5" stroke="#000" stroke-width="2.3"/>
<text x="1209" y="311.2" font-size="20.4" text-anchor="middle" stroke="#000" style="font-kerning:normal">1191</text>
<text x="1278.6" y="311.2" font-size="20.4" text-anchor="middle" stroke="#000" style="font-kerning:normal">1192</text>
<text x="1348.2" y="311.2" font-size="20.4" text-anchor="middle" stroke="#000" style="font-kerning:normal">1193</text>
<text x="1417.8" y="311.2" font-size="20.4" text-anchor="middle" stroke="#000" style="font-kerning:normal">1194</text>
<text x="1487.4" y="311.2" font-size="20.4" text-anchor="middle" stroke="#000" style="font-kerning:normal">1195</text>
<text x="1356.55" y="335.7" font-size="20.8" text-anchor="middle" font-style="italic" stroke="#000">m/z</text>
<text x="1250.8" y="157" font-size="20.4" stroke="#000" style="font-kerning:normal">1192.58</text>
<text x="1239.8" y="228" font-size="20.4" stroke="#000" style="font-kerning:normal">1192.33</text>
<text x="1267.8" y="118" font-size="20.4" stroke="#000" style="font-kerning:normal">1192.83</text>
<text x="1317.8" y="101" font-size="20.4" stroke="#000" style="font-kerning:normal">1193.08</text>
<text x="1371.8" y="123" font-size="20.4" stroke="#000" style="font-kerning:normal">1193.33</text>
<text x="1397.8" y="203" font-size="20.4" stroke="#000" style="font-kerning:normal">1193.83</text>
<text x="1432.6" y="244.3" font-size="20.4" stroke="#000" style="font-kerning:normal">1194.33</text>
<line x1="1292" y1="162" x2="1318" y2="174.5" stroke="#5fbf4a" stroke-width="1.1"/>
<line x1="1280" y1="232.5" x2="1300" y2="252" stroke="#5fbf4a" stroke-width="1.1"/>
<line x1="1310" y1="122" x2="1334" y2="135" stroke="#5fbf4a" stroke-width="1.1"/>
<line x1="1373" y1="140.5" x2="1396" y2="127.5" stroke="#5fbf4a" stroke-width="1.1"/>
<line x1="1407" y1="226" x2="1427" y2="207.5" stroke="#5fbf4a" stroke-width="1.1"/>
<line x1="1442" y1="268.5" x2="1462" y2="250" stroke="#5fbf4a" stroke-width="1.1"/>
<text x="1533.5" y="79.7" font-size="20.8" text-anchor="end" stroke="#000">ML226</text>
<text x="1533.5" y="100.6" font-size="20.8" text-anchor="end" stroke="#000">NL: 1.46e4</text>
<g transform="translate(0 414.5)">
<text x="122" y="203" font-size="19.8" stroke="#000">K<tspan font-size="14.2" dy="5.2" dx="-1.3" letter-spacing="-0.7">110</tspan></text>
<path d="M159.5 193.1 L177.4 183 L201.2 196.6 L224.6 182.5 L248.4 196.6 L271.4 183 L285 190.8" fill="none" stroke="#d57b2d" stroke-width="1.9" stroke-linejoin="miter" stroke-linecap="butt"/>
<line x1="173.95" y1="166.6" x2="173.95" y2="184.3" stroke="#d57b2d" stroke-width="1.9"/>
<line x1="180.85" y1="166.6" x2="180.85" y2="184.3" stroke="#d57b2d" stroke-width="1.9"/>
<text x="177.8" y="162.1" font-size="19.8" text-anchor="middle" fill="#d57b2d" stroke="#d57b2d">O</text>
<line x1="267.95" y1="166.6" x2="267.95" y2="184.3" stroke="#d57b2d" stroke-width="1.9"/>
<line x1="274.85" y1="166.6" x2="274.85" y2="184.3" stroke="#d57b2d" stroke-width="1.9"/>
<text x="271.8" y="162.1" font-size="19.8" text-anchor="middle" fill="#d57b2d" stroke="#d57b2d">O</text>
<text x="287" y="203" font-size="19.6" fill="#d57b2d" stroke="#d57b2d">OH</text>
</g>
<line x1="432.91" y1="701.9" x2="547.8" y2="701.9" stroke="#d9d9d9" stroke-width="2.9" stroke-linecap="round" stroke-dasharray="9.93 7.43"/>
<path d="M433.2 455.1 V729.4 H549" fill="none" stroke="#000" stroke-width="3" stroke-linejoin="miter" stroke-linecap="butt"/>
<line x1="418.7" y1="456.6" x2="433.2" y2="456.6" stroke="#000" stroke-width="3"/>
<text x="416.5" y="464.8" font-size="22.9" text-anchor="end" stroke="#000">10</text>
<line x1="418.7" y1="511.16" x2="433.2" y2="511.16" stroke="#000" stroke-width="3"/>
<text x="416.5" y="519.36" font-size="22.9" text-anchor="end" stroke="#000">8</text>
<line x1="418.7" y1="565.72" x2="433.2" y2="565.72" stroke="#000" stroke-width="3"/>
<text x="416.5" y="573.92" font-size="22.9" text-anchor="end" stroke="#000">6</text>
<line x1="418.7" y1="620.28" x2="433.2" y2="620.28" stroke="#000" stroke-width="3"/>
<text x="416.5" y="628.48" font-size="22.9" text-anchor="end" stroke="#000">4</text>
<line x1="418.7" y1="674.84" x2="433.2" y2="674.84" stroke="#000" stroke-width="3"/>
<text x="416.5" y="683.04" font-size="22.9" text-anchor="end" stroke="#000">2</text>
<line x1="418.7" y1="729.4" x2="433.2" y2="729.4" stroke="#000" stroke-width="3"/>
<text x="416.5" y="737.6" font-size="22.9" text-anchor="end" stroke="#000">0</text>
<line x1="466" y1="729.4" x2="466" y2="743.9" stroke="#000" stroke-width="3"/>
<text x="481.5" y="762.9" font-size="26.2" text-anchor="end" transform="rotate(-40 481.5 762.9)" stroke="#000">β2M</text>
<line x1="515.8" y1="729.4" x2="515.8" y2="743.9" stroke="#000" stroke-width="3"/>
<text x="532.3" y="761.9" font-size="26.2" text-anchor="end" transform="rotate(-40 532.3 761.9)" stroke="#000">ABHD11</text>
<text x="351" y="593" font-size="26.2" text-anchor="middle" transform="rotate(-90 351 593)" stroke="#000">Glutaryl-lysine</text>
<text x="379.2" y="593" font-size="26.2" text-anchor="middle" transform="rotate(-90 379.2 593)" stroke="#000">(relative to β2M)</text>
<text x="403" y="438.5" font-size="29.1" stroke="#000">OGDHc-E2 K110 K<tspan font-size="17.5" dy="9" dx="-1">glu</tspan></text>
<text x="331.5" y="795.2" font-size="26.2" stroke="#000">sgRNA</text>
<line x1="454.9" y1="701.9" x2="477.6" y2="701.9" stroke="#000" stroke-width="3"/>
<circle cx="454.9" cy="701.9" r="5" fill="#a7a9ac"/>
<circle cx="466.2" cy="701.9" r="5" fill="#a7a9ac"/>
<circle cx="477.6" cy="701.9" r="5" fill="#a7a9ac"/>
<line x1="515.8" y1="500" x2="515.8" y2="704.9" stroke="#000" stroke-width="3"/>
<line x1="507.6" y1="500" x2="524" y2="500" stroke="#000" stroke-width="3" stroke-linecap="round"/>
<line x1="507.6" y1="704.9" x2="524" y2="704.9" stroke="#000" stroke-width="3" stroke-linecap="round"/>
<line x1="499.8" y1="628.3" x2="531.8" y2="628.3" stroke="#000" stroke-width="3"/>
<circle cx="515.8" cy="499.2" r="5.1" fill="#ef8a90"/>
<circle cx="515.8" cy="681.1" r="5.1" fill="#ef8a90"/>
<circle cx="515.8" cy="705.1" r="5.1" fill="#ef8a90"/>
<text x="734.6" y="449.1" font-size="20.8" stroke="#000">OGDHc-E2 (UniProt: P36957)</text>
<text x="734.6" y="470.8" font-size="20.8" stroke="#000">K.AVGDTVAEDEVVCEIETDK(+114.03)TSVQVPSPAN(+.98)GVIEALLVPDGGK.V</text>
<text x="712.7" y="621" font-size="20.8" text-anchor="middle" transform="rotate(-90 712.7 621)" stroke="#000">Relative abundance (AU)</text>
<path d="M763.2 705.2L773.09 705.2L773.2 704.93L773.7 704.3L774.05 703.87L774.2 703.68L774.7 703.07L775 702.7L775.2 702.93L775.7 703.54L775.96 703.87L776.2 704.17L776.7 704.79L776.92 705.2L788.2 705.2L788.7 705.03L789.2 704.95L789.7 704.87L789.8 704.85L790.2 703.46L790.7 701.71L790.82 701.3L791.2 699.99L791.7 698.3L791.83 697.86L792.2 699.1L792.7 700.81L792.84 701.3L793.2 702.55L793.7 704.3L793.86 704.85L794.2 704.91L794.7 704.99L795.2 705.2L810.2 705.2L810.7 704.98L811.2 704.87L811.7 704.75L811.92 704.69L812.2 703.27L812.7 700.7L812.98 699.27L813.2 698.16L813.7 695.65L814.04 693.98L814.2 694.75L814.7 697.19L815.1 699.17L815.2 699.67L815.7 702.16L816.1 704.17L816.15 704.31L816.2 704.22L816.7 703.12L817.09 702.26L817.2 702.02L817.7 700.91L818.08 700.09L818.2 700.38L818.7 701.61L819.06 702.5L819.2 702.84L819.7 704.08L820.05 704.94L820.2 704.96L820.7 705.03L821.2 705.2L859.7 705.2L860.2 705.03L860.54 704.99L860.7 704.66L861.2 703.63L861.52 702.98L861.7 702.62L862.2 701.61L862.5 701.04L862.7 701.43L863.2 702.43L863.47 702.98L863.7 703.45L864.2 704.47L864.45 704.99L864.7 705.01L865.2 705.2L866.2 705.2L866.7 705.02L867.2 704.91L867.7 704.73L868.2 704.44L868.7 704.03L868.92 703.76L869.2 698.87L869.7 690.07L870.2 681.24L870.42 677.37L870.7 672.47L871.2 663.83L871.7 655.4L871.92 651.87L872.2 656.5L872.7 664.96L873.2 673.62L873.42 677.48L873.7 682.41L874.2 691.24L874.7 700.03L874.92 703.82L875.2 704.09L875.7 704.49L876.2 704.77L876.7 704.96L877.2 705.2L881.7 705.2L882.2 704.96L882.7 704.83L882.73 704.82L883.2 703.54L883.7 702.07L883.72 702.01L884.2 700.45L884.7 698.61L885.2 698.8L885.69 698.7L885.7 698.69L885.74 698.67L886.2 676.67L886.68 653.43L886.7 652.41L887.2 627.03L887.24 625.01L887.7 601.87L888.2 577.19L888.7 553.17L888.74 551.29L889.2 573.15L889.7 597.79L890.2 622.95L890.24 624.97L890.7 648.37L891.2 673.82L891.7 699.09L891.74 701.1L892.2 702.44L892.7 703.46L893.2 704.17L893.7 704.63L894.2 704.9L894.7 705.2L899.2 705.2L899.7 705.02L900.2 704.84L900.7 704.51L901.2 703.97L901.7 703.14L902.2 701.97L902.57 700.7L902.7 693.62L903.2 666.2L903.7 638.61L904.07 618.23L904.2 611.1L904.7 583.94L905.2 557.39L905.57 538.55L905.7 545.23L906.2 571.42L906.7 598.32L907.07 618.54L907.2 625.68L907.7 653.25L908.2 680.74L908.57 700.77L908.7 701.17L909.2 702.48L909.67 703.36L909.7 703.35L910.2 702.99L910.65 702.45L910.7 702.38L911.2 701.62L911.62 700.9L911.7 701.06L912.2 702.12L912.6 702.96L912.7 703.16L913.2 704.2L913.58 704.99L913.7 705.01L914.2 705.2L916.2 705.2L916.7 704.99L917.2 704.81L917.7 704.48L918.2 703.96L918.7 703.17L919.2 702.08L919.39 701.58L919.7 687.52L920.2 664.53L920.7 641.47L920.89 632.73L921.2 618.54L921.7 596L922.2 574.02L922.39 565.84L922.7 579.06L923.2 601.18L923.7 623.84L923.89 632.54L924.2 646.81L924.7 669.88L925.2 692.83L925.39 701.49L925.7 702.36L926.2 703.38L926.7 704.1L927.2 704.58L927.7 704.87L928.2 705.2L933.7 705.2L934.2 705L934.7 704.84L935.2 704.58L935.7 704.2L936.2 703.7L936.22 703.63L936.7 694.44L937.2 684.79L937.7 675.15L937.72 674.76L938.2 665.59L938.7 656.23L939.2 647.12L939.22 646.87L939.7 655.6L940.2 664.95L940.7 674.49L940.72 674.88L941.2 684.14L941.7 693.78L942.2 703.36L942.22 703.69L942.7 704.17L943.2 704.56L943.7 704.82L944.2 704.99L944.7 705.2L950.7 705.2L951.2 704.99L951.7 704.82L952.2 704.57L952.7 704.21L953.04 703.9L953.2 701.32L953.7 693.09L954.2 684.81L954.54 679.19L954.7 676.56L955.2 668.42L955.7 660.47L956.04 655.19L956.2 657.6L956.7 665.47L957.2 673.55L957.54 679.13L957.7 681.77L958.2 690.04L958.7 698.3L959.04 703.87L959.2 704.05L959.7 704.45L960.2 704.74L960.7 704.93L961.2 705.2L971.7 705.2L972.2 704.64L972.59 704.31L972.7 704.22L973.2 703.81L973.54 703.53L973.7 703.66L974.2 704.07L974.49 704.31L974.7 704.49L975.2 704.91L975.44 705.2L985.1 705.2L985.2 705.03L985.7 704.61L986.05 704.31L986.2 704.19L986.7 703.77L987 703.53L987.2 703.69L987.7 704.1L987.95 704.31L988.2 704.51L988.7 704.92L988.9 705.2L990.2 705.2L990.7 705.01L991.2 704.95L991.7 704.87L991.72 704.86L992.2 703.33L992.7 701.73L992.72 701.67L993.2 700.16L993.7 698.62L993.73 698.53L994.2 699.98L994.7 701.55L994.74 701.67L995.2 703.14L995.7 704.74L995.74 704.87L996.2 704.95L996.7 705.02L997.2 705.2L1016.2 705.2L1016.7 704.98L1017.2 704.85L1017.7 704.67L1018.2 704.45L1018.35 704.38L1018.7 701.53L1019.2 697.43L1019.5 694.98L1019.7 693.35L1020.2 689.32L1020.65 685.75L1020.7 686.12L1021.2 689.92L1021.29 690.62L1021.7 692.28L1021.8 692.69L1022.2 694.36L1022.32 694.87L1022.7 696.49L1022.95 697.55L1023.2 696.71L1023.34 696.25L1023.7 697.73L1024.2 699.81L1024.37 700.52L1024.7 701.88L1025.2 703.93L1025.39 704.71L1025.7 704.8L1026.2 704.93L1026.7 705.02L1027.2 705.2L1083.7 705.2L1084.2 704.97L1084.61 704.92L1084.7 704.66L1085.2 703.25L1085.61 702.1L1085.7 701.84L1086.2 700.46L1086.6 699.37L1086.7 699.62L1087.2 700.99L1087.6 702.1L1087.7 702.38L1088.2 703.79L1088.6 704.92L1088.7 704.93L1089.2 705L1089.7 705.2L1101.7 705.2L1102.2 705.01L1102.7 704.91L1103.2 704.78L1103.4 704.72L1103.7 703.5L1104.2 701.46L1104.42 700.55L1104.7 699.4L1105.2 697.34L1105.45 696.33L1105.7 697.17L1105.9 697.86L1106.2 696.83L1106.47 695.92L1106.7 695.15L1107.02 694.11L1107.2 693.53L1107.5 692.58L1107.7 691.21L1108.14 688.25L1108.2 688.67L1108.7 692.23L1109.2 695.84L1109.26 696.28L1109.7 699.49L1110.2 703.14L1110.38 704.46L1110.7 704.59L1111.2 704.78L1111.7 704.92L1112.2 705.03L1112.7 705.2L1118.2 705.2" fill="none" stroke="#000" stroke-width="2.3" stroke-linejoin="round"/>
<path d="M754.4 538.1 H763.2 V706.4 H1118.6" fill="none" stroke="#000" stroke-width="2.3" stroke-linejoin="miter" stroke-linecap="butt"/>
<line x1="754.4" y1="706.4" x2="763.2" y2="706.4" stroke="#000" stroke-width="2.3"/>
<line x1="754.4" y1="673.54" x2="763.2" y2="673.54" stroke="#000" stroke-width="2.3"/>
<line x1="754.4" y1="640.48" x2="763.2" y2="640.48" stroke="#000" stroke-width="2.3"/>
<line x1="754.4" y1="605.82" x2="763.2" y2="605.82" stroke="#000" stroke-width="2.3"/>
<line x1="754.4" y1="572.56" x2="763.2" y2="572.56" stroke="#000" stroke-width="2.3"/>
<text x="749" y="712.3" font-size="21.2" text-anchor="end" stroke="#000" style="font-kerning:normal" textLength="11.4" lengthAdjust="spacingAndGlyphs">0</text>
<text x="749" y="679.44" font-size="21.2" text-anchor="end" stroke="#000" style="font-kerning:normal" textLength="22.8" lengthAdjust="spacingAndGlyphs">20</text>
<text x="749" y="646.38" font-size="21.2" text-anchor="end" stroke="#000" style="font-kerning:normal" textLength="22.8" lengthAdjust="spacingAndGlyphs">40</text>
<text x="749" y="611.72" font-size="21.2" text-anchor="end" stroke="#000" style="font-kerning:normal" textLength="22.8" lengthAdjust="spacingAndGlyphs">60</text>
<text x="749" y="578.46" font-size="21.2" text-anchor="end" stroke="#000" style="font-kerning:normal" textLength="22.8" lengthAdjust="spacingAndGlyphs">80</text>
<text x="750.6" y="544" font-size="21.2" text-anchor="end" stroke="#000" style="font-kerning:normal" textLength="33.6" lengthAdjust="spacingAndGlyphs">100</text>
<line x1="772.04" y1="706.4" x2="772.04" y2="714.2" stroke="#000" stroke-width="2.3"/>
<line x1="785.5" y1="706.4" x2="785.5" y2="716.3" stroke="#000" stroke-width="2.3"/>
<line x1="798.96" y1="706.4" x2="798.96" y2="714.2" stroke="#000" stroke-width="2.3"/>
<line x1="812.42" y1="706.4" x2="812.42" y2="714.2" stroke="#000" stroke-width="2.3"/>
<line x1="825.88" y1="706.4" x2="825.88" y2="714.2" stroke="#000" stroke-width="2.3"/>
<line x1="839.34" y1="706.4" x2="839.34" y2="714.2" stroke="#000" stroke-width="2.3"/>
<line x1="852.8" y1="706.4" x2="852.8" y2="716.3" stroke="#000" stroke-width="2.3"/>
<line x1="866.26" y1="706.4" x2="866.26" y2="714.2" stroke="#000" stroke-width="2.3"/>
<line x1="879.72" y1="706.4" x2="879.72" y2="714.2" stroke="#000" stroke-width="2.3"/>
<line x1="893.18" y1="706.4" x2="893.18" y2="714.2" stroke="#000" stroke-width="2.3"/>
<line x1="906.64" y1="706.4" x2="906.64" y2="714.2" stroke="#000" stroke-width="2.3"/>
<line x1="920.1" y1="706.4" x2="920.1" y2="716.3" stroke="#000" stroke-width="2.3"/>
<line x1="933.56" y1="706.4" x2="933.56" y2="714.2" stroke="#000" stroke-width="2.3"/>
<line x1="947.02" y1="706.4" x2="947.02" y2="714.2" stroke="#000" stroke-width="2.3"/>
<line x1="960.48" y1="706.4" x2="960.48" y2="714.2" stroke="#000" stroke-width="2.3"/>
<line x1="973.94" y1="706.4" x2="973.94" y2="714.2" stroke="#000" stroke-width="2.3"/>
<line x1="987.4" y1="706.4" x2="987.4" y2="716.3" stroke="#000" stroke-width="2.3"/>
<line x1="1000.86" y1="706.4" x2="1000.86" y2="714.2" stroke="#000" stroke-width="2.3"/>
<line x1="1014.32" y1="706.4" x2="1014.32" y2="714.2" stroke="#000" stroke-width="2.3"/>
<line x1="1027.78" y1="706.4" x2="1027.78" y2="714.2" stroke="#000" stroke-width="2.3"/>
<line x1="1041.24" y1="706.4" x2="1041.24" y2="714.2" stroke="#000" stroke-width="2.3"/>
<line x1="1054.7" y1="706.4" x2="1054.7" y2="716.3" stroke="#000" stroke-width="2.3"/>
<line x1="1068.16" y1="706.4" x2="1068.16" y2="714.2" stroke="#000" stroke-width="2.3"/>
<line x1="1081.62" y1="706.4" x2="1081.62" y2="714.2" stroke="#000" stroke-width="2.3"/>
<line x1="1095.08" y1="706.4" x2="1095.08" y2="714.2" stroke="#000" stroke-width="2.3"/>
<line x1="1108.54" y1="706.4" x2="1108.54" y2="714.2" stroke="#000" stroke-width="2.3"/>
<text x="785.5" y="731.9" font-size="20.4" text-anchor="middle" stroke="#000" style="font-kerning:normal">1091</text>
<text x="852.8" y="731.9" font-size="20.4" text-anchor="middle" stroke="#000" style="font-kerning:normal">1092</text>
<text x="920.1" y="731.9" font-size="20.4" text-anchor="middle" stroke="#000" style="font-kerning:normal">1093</text>
<text x="987.4" y="731.9" font-size="20.4" text-anchor="middle" stroke="#000" style="font-kerning:normal">1094</text>
<text x="1054.7" y="731.9" font-size="20.4" text-anchor="middle" stroke="#000" style="font-kerning:normal">1095</text>
<text x="940.9" y="756.4" font-size="20.8" text-anchor="middle" font-style="italic" stroke="#000">m/z</text>
<text x="798.8" y="540.1" font-size="20.4" stroke="#000" style="font-kerning:normal">1092.54</text>
<text x="868" y="533" font-size="20.4" stroke="#000" style="font-kerning:normal">1092.79</text>
<text x="925.6" y="554" font-size="20.4" stroke="#000" style="font-kerning:normal">1093.04</text>
<text x="805.3" y="625.2" font-size="20.4" stroke="#000" style="font-kerning:normal">1092.29</text>
<text x="947.3" y="628.4" font-size="20.4" stroke="#000" style="font-kerning:normal">1093.30</text>
<text x="985.5" y="681.1" font-size="20.4" stroke="#000" style="font-kerning:normal">1094.51</text>
<line x1="842" y1="544.5" x2="885" y2="551.6" stroke="#5fbf4a" stroke-width="1.1"/>
<line x1="926.1" y1="566.2" x2="955.2" y2="559.1" stroke="#5fbf4a" stroke-width="1.1"/>
<line x1="849.5" y1="629.6" x2="869.8" y2="649" stroke="#5fbf4a" stroke-width="1.1"/>
<line x1="957.2" y1="652.2" x2="976.2" y2="632.8" stroke="#5fbf4a" stroke-width="1.1"/>
<text x="1118.6" y="517.9" font-size="20.8" text-anchor="end" stroke="#000">β2M sgRNA</text>
<text x="1118.6" y="538.7" font-size="20.8" text-anchor="end" stroke="#000">NL: 7.31e4</text>
<path d="M1178.5 705.2L1208.5 705.2L1209 705.03L1209.5 704.95L1209.84 704.89L1210 704.48L1210.5 703.2L1210.83 702.35L1211 701.91L1211.5 700.61L1211.81 699.8L1212 700.18L1212.36 700.92L1212.5 700.47L1212.8 699.49L1213 698.84L1213.43 697.47L1213.5 697.25L1213.79 696.35L1214 695.22L1214.5 692.56L1214.51 692.55L1215 695.26L1215.5 698.07L1215.58 698.52L1216 700.91L1216.5 703.76L1216.65 704.61L1217 704.73L1217.5 704.87L1218 704.98L1218.5 705.2L1225.5 705.2L1226 705L1226.5 704.94L1226.65 704.9L1227 703.91L1227.5 702.5L1227.64 702.11L1228 701.11L1228.5 699.74L1228.64 699.36L1229 700.34L1229.5 701.72L1229.64 702.11L1230 703.12L1230.5 704.54L1230.63 704.9L1231 704.96L1231.5 705.01L1232 705.2L1233 705.2L1233.5 705.03L1234 704.97L1234.5 704.9L1234.7 704.87L1235 703.92L1235.5 702.32L1235.71 701.66L1236 700.74L1236.5 699.19L1236.71 698.54L1237 699.4L1237.5 700.96L1237.72 701.66L1238 702.55L1238.5 704.15L1238.73 704.88L1239 704.92L1239.5 705L1240 705.2L1263.5 705.2L1264 704.96L1264.5 704.83L1265 704.66L1265.03 704.64L1265.5 703.36L1266 701.97L1266.01 701.94L1266.14 701.58L1266.5 698.36L1267 693.87L1267.24 692.85L1267.5 691.77L1267.99 689.79L1268 689.75L1268.35 688.44L1268.5 689.75L1268.97 693.9L1269 694.11L1269.45 697.09L1269.5 697.43L1270 700.78L1270.5 704.14L1270.55 704.46L1271 704.65L1271.5 704.82L1272 704.96L1272.5 705.2L1277 705.2L1277.5 704.98L1278 704.89L1278.41 704.8L1278.5 704.45L1279 702.47L1279.44 700.74L1279.5 700.51L1280 698.56L1280.46 696.79L1280.5 696.94L1281 698.77L1281.49 700.57L1281.5 700.6L1282 702.41L1282.5 704.16L1282.51 704.19L1283 704L1283.28 703.87L1283.5 701.32L1284 695.48L1284.5 689.64L1284.56 688.94L1285 683.85L1285.5 678.16L1285.84 674.37L1286 676.06L1286.5 681.73L1287 687.52L1287.13 689.04L1287.5 693.4L1288 699.31L1288.41 704.12L1288.5 704.18L1289 704.49L1289.5 704.74L1290 704.91L1290.5 705.2L1294 705.2L1294.5 704.95L1295 704.82L1295.5 704.64L1295.79 704.52L1296 703.25L1296.5 700.13L1296.88 697.72L1297 696.94L1297.5 693.64L1297.96 690.49L1298 690.66L1298.5 692.68L1299 694.31L1299.04 692.83L1299.5 675.67L1300 656.9L1300.12 652.38L1300.5 635.98L1301 614.57L1301.5 593.57L1302 573.45L1302.5 594.04L1303 615.2L1303.5 636.78L1304 658.56L1304.5 680.34L1305 701.79L1305.5 702.93L1306 703.78L1306.5 704.37L1307 704.74L1307.5 704.96L1308 705.2L1314 705.2L1314.5 704.96L1315 704.73L1315.5 704.32L1316 703.68L1316.5 702.72L1317 701.39L1317.17 700.7L1317.5 682.68L1318 655.17L1318.5 627.59L1318.67 618.23L1319 600.18L1319.5 573.24L1320 546.99L1320.17 538.55L1320.5 555.62L1321 582.12L1321.5 609.24L1321.67 618.56L1322 636.74L1322.5 664.32L1323 691.76L1323.17 700.88L1323.5 701.87L1324 703.07L1324.5 703.92L1325 704.48L1325.5 704.82L1326 705.01L1326.5 705.2L1331 705.2L1331.5 704.98L1332 704.78L1332.5 704.44L1333 703.91L1333.5 703.14L1333.99 702.13L1334 701.82L1334.5 682.39L1335 662.82L1335.49 643.65L1335.5 643.26L1336 623.9L1336.5 604.92L1336.99 586.84L1337 587.06L1337.5 605.52L1338 624.51L1338.49 643.49L1338.5 643.88L1339 663.45L1339.5 683.02L1339.99 702.05L1340 702.14L1340.5 703.17L1341 703.93L1341.5 704.45L1342 704.79L1342.5 704.99L1343 705.2L1348 705.2L1348.5 705.01L1349 704.84L1349.5 704.56L1350 704.14L1350.5 703.55L1350.82 703L1351 698.19L1351.5 684.74L1352 671.22L1352.32 662.59L1352.5 657.75L1353 644.47L1353.5 631.5L1353.82 623.54L1354 628.08L1354.5 640.96L1355 654.17L1355.32 662.75L1355.5 667.6L1356 681.12L1356.5 694.6L1356.82 703.08L1357 703.36L1357.5 704L1358 704.47L1358.5 704.78L1359 704.97L1359.5 705.2L1365 705.2L1365.5 705.02L1366 704.88L1366.5 704.64L1367 704.28L1367.5 703.8L1367.64 703.64L1368 696.6L1368.5 686.69L1369 676.76L1369.14 673.99L1369.5 666.9L1370 657.22L1370.5 647.78L1370.64 645.19L1371 651.82L1371.5 661.37L1372 671.15L1372.14 673.91L1372.5 681.05L1373 690.98L1373.5 700.85L1373.64 703.6L1374 704.03L1374.5 704.45L1375 704.75L1375.5 704.95L1376 705.2L1388.5 705.2L1389 705.03L1389.5 704.95L1390 704.87L1390.15 704.83L1390.5 703.58L1391 701.79L1391.16 701.23L1391.5 700.03L1392 698.3L1392.18 697.7L1392.5 698.8L1393 700.54L1393.19 701.21L1393.5 702.31L1394 704.09L1394.21 704.84L1394.5 704.89L1395 704.98L1395.5 705.2L1400 705.2L1400.5 704.95L1401 704.8L1401.5 704.62L1401.99 704.41L1402 704.37L1402.5 700.29L1403 696.23L1403.14 695.1L1403.5 692.22L1404 688.28L1404.29 686.03L1404.5 687.62L1405 691.55L1405.44 695.07L1405.5 695.55L1406 699.61L1406.5 703.68L1406.59 704.41L1407 704.59L1407.5 704.78L1408 704.92L1408.5 705.03L1409 705.2L1434.5 705.2L1435 704.97L1435.5 704.88L1435.89 704.81L1436 704.38L1436.5 702.41L1436.92 700.77L1437 700.46L1437.5 698.53L1437.94 696.87L1438 697.08L1438.5 698.97L1438.97 700.79L1439 700.91L1439.5 702.87L1439.99 704.8L1440 704.81L1440.5 704.91L1441 704.99L1441.5 705.2L1467.5 705.2L1468 704.94L1468.5 704.8L1469 704.62L1469.39 704.44L1469.5 703.7L1470 700.32L1470.49 696.99L1470.5 696.92L1471 693.55L1471.48 690.36L1471.5 690.16L1471.59 689.11L1472 689.49L1472.5 690.07L1472.55 690.13L1472.69 690.31L1473 690.74L1473.5 691.48L1473.61 691.65L1473.79 693.75L1474 694.93L1474.5 697.69L1474.67 698.63L1475 700.46L1475.5 703.23L1475.74 704.53L1476 704.64L1476.5 704.81L1477 704.95L1477.5 705.2L1480 705.2L1480.5 705.02L1481 704.93L1481.5 704.8L1482 704.64L1482.2 704.55L1482.5 702.65L1483 699.5L1483.29 697.69L1483.5 696.38L1484 693.31L1484.38 691.03L1484.5 691.75L1485 694.79L1485.47 697.7L1485.5 697.89L1486 701.03L1486.5 704.18L1486.56 704.56L1487 704.72L1487.5 704.86L1488 704.98L1488.5 705.2L1500 705.2L1500.5 704.99L1501 704.87L1501.5 704.71L1501.85 704.55L1502 703.92L1502.5 701.79L1502.87 700.2L1503 699.63L1503.5 697.45L1503.52 697.37L1503.9 692.36L1504 691.78L1504.5 688.92L1504.72 687.68L1504.92 686.58L1505 686.14L1505.5 683.46L1505.91 681.36L1505.95 681.77L1506 682.23L1506.5 686.89L1507 691.65L1507.11 692.7L1507.5 696.46L1508 701.28L1508.31 704.23L1508.5 704.34L1509 704.61L1509.5 704.81L1510 704.96L1510.5 705.2L1518 705.2L1518.5 704.97L1519 704.87L1519.34 704.81L1519.5 704.19L1520 702.22L1520.37 700.77L1520.5 700.27L1521 698.35L1521.39 696.87L1521.5 697.26L1522 699.16L1522.42 700.78L1522.5 701.09L1523 703.05L1523.44 704.79L1523.5 704.82L1524 704.91L1524.5 705L1525 705.2L1532 705.2" fill="none" stroke="#000" stroke-width="2.3" stroke-linejoin="round"/>
<path d="M1170.2 538.1 H1178.5 V706.4 H1532" fill="none" stroke="#000" stroke-width="2.3" stroke-linejoin="miter" stroke-linecap="butt"/>
<line x1="1170.2" y1="706.4" x2="1178.5" y2="706.4" stroke="#000" stroke-width="2.3"/>
<line x1="1170.2" y1="673.54" x2="1178.5" y2="673.54" stroke="#000" stroke-width="2.3"/>
<line x1="1170.2" y1="640.48" x2="1178.5" y2="640.48" stroke="#000" stroke-width="2.3"/>
<line x1="1170.2" y1="605.82" x2="1178.5" y2="605.82" stroke="#000" stroke-width="2.3"/>
<line x1="1170.2" y1="572.56" x2="1178.5" y2="572.56" stroke="#000" stroke-width="2.3"/>
<line x1="1185.54" y1="706.4" x2="1185.54" y2="714.2" stroke="#000" stroke-width="2.3"/>
<line x1="1199" y1="706.4" x2="1199" y2="716.3" stroke="#000" stroke-width="2.3"/>
<line x1="1212.46" y1="706.4" x2="1212.46" y2="714.2" stroke="#000" stroke-width="2.3"/>
<line x1="1225.92" y1="706.4" x2="1225.92" y2="714.2" stroke="#000" stroke-width="2.3"/>
<line x1="1239.38" y1="706.4" x2="1239.38" y2="714.2" stroke="#000" stroke-width="2.3"/>
<line x1="1252.84" y1="706.4" x2="1252.84" y2="714.2" stroke="#000" stroke-width="2.3"/>
<line x1="1266.3" y1="706.4" x2="1266.3" y2="716.3" stroke="#000" stroke-width="2.3"/>
<line x1="1279.76" y1="706.4" x2="1279.76" y2="714.2" stroke="#000" stroke-width="2.3"/>
<line x1="1293.22" y1="706.4" x2="1293.22" y2="714.2" stroke="#000" stroke-width="2.3"/>
<line x1="1306.68" y1="706.4" x2="1306.68" y2="714.2" stroke="#000" stroke-width="2.3"/>
<line x1="1320.14" y1="706.4" x2="1320.14" y2="714.2" stroke="#000" stroke-width="2.3"/>
<line x1="1333.6" y1="706.4" x2="1333.6" y2="716.3" stroke="#000" stroke-width="2.3"/>
<line x1="1347.06" y1="706.4" x2="1347.06" y2="714.2" stroke="#000" stroke-width="2.3"/>
<line x1="1360.52" y1="706.4" x2="1360.52" y2="714.2" stroke="#000" stroke-width="2.3"/>
<line x1="1373.98" y1="706.4" x2="1373.98" y2="714.2" stroke="#000" stroke-width="2.3"/>
<line x1="1387.44" y1="706.4" x2="1387.44" y2="714.2" stroke="#000" stroke-width="2.3"/>
<line x1="1400.9" y1="706.4" x2="1400.9" y2="716.3" stroke="#000" stroke-width="2.3"/>
<line x1="1414.36" y1="706.4" x2="1414.36" y2="714.2" stroke="#000" stroke-width="2.3"/>
<line x1="1427.82" y1="706.4" x2="1427.82" y2="714.2" stroke="#000" stroke-width="2.3"/>
<line x1="1441.28" y1="706.4" x2="1441.28" y2="714.2" stroke="#000" stroke-width="2.3"/>
<line x1="1454.74" y1="706.4" x2="1454.74" y2="714.2" stroke="#000" stroke-width="2.3"/>
<line x1="1468.2" y1="706.4" x2="1468.2" y2="716.3" stroke="#000" stroke-width="2.3"/>
<line x1="1481.66" y1="706.4" x2="1481.66" y2="714.2" stroke="#000" stroke-width="2.3"/>
<line x1="1495.12" y1="706.4" x2="1495.12" y2="714.2" stroke="#000" stroke-width="2.3"/>
<line x1="1508.58" y1="706.4" x2="1508.58" y2="714.2" stroke="#000" stroke-width="2.3"/>
<line x1="1522.04" y1="706.4" x2="1522.04" y2="714.2" stroke="#000" stroke-width="2.3"/>
<text x="1199" y="731.9" font-size="20.4" text-anchor="middle" stroke="#000" style="font-kerning:normal">1091</text>
<text x="1266.3" y="731.9" font-size="20.4" text-anchor="middle" stroke="#000" style="font-kerning:normal">1092</text>
<text x="1333.6" y="731.9" font-size="20.4" text-anchor="middle" stroke="#000" style="font-kerning:normal">1093</text>
<text x="1400.9" y="731.9" font-size="20.4" text-anchor="middle" stroke="#000" style="font-kerning:normal">1094</text>
<text x="1468.2" y="731.9" font-size="20.4" text-anchor="middle" stroke="#000" style="font-kerning:normal">1095</text>
<text x="1355.25" y="756.4" font-size="20.8" text-anchor="middle" font-style="italic" stroke="#000">m/z</text>
<text x="1225" y="553.5" font-size="20.4" stroke="#000" style="font-kerning:normal">1092.54</text>
<text x="1278" y="533" font-size="20.4" stroke="#000" style="font-kerning:normal">1092.79</text>
<text x="1328" y="562" font-size="20.4" stroke="#000" style="font-kerning:normal">1093.04</text>
<text x="1345" y="598" font-size="20.4" stroke="#000" style="font-kerning:normal">1093.29</text>
<text x="1370" y="632" font-size="20.4" stroke="#000" style="font-kerning:normal">1093.55</text>
<text x="1218" y="648" font-size="20.4" stroke="#000" style="font-kerning:normal">1092.29</text>
<text x="1395" y="661" font-size="20.4" stroke="#000" style="font-kerning:normal">1094.04</text>
<line x1="1269" y1="558" x2="1298" y2="572" stroke="#5fbf4a" stroke-width="1.1"/>
<line x1="1338" y1="585.5" x2="1358" y2="566" stroke="#5fbf4a" stroke-width="1.1"/>
<line x1="1356" y1="621" x2="1375" y2="603" stroke="#5fbf4a" stroke-width="1.1"/>
<line x1="1371" y1="643" x2="1399" y2="636" stroke="#5fbf4a" stroke-width="1.1"/>
<line x1="1262" y1="652" x2="1283" y2="671" stroke="#5fbf4a" stroke-width="1.1"/>
<line x1="1404" y1="685" x2="1424" y2="666" stroke="#5fbf4a" stroke-width="1.1"/>
<text x="1532" y="517.9" font-size="20.8" text-anchor="end" stroke="#000">ABHD11 sgRNA</text>
<text x="1532" y="538.7" font-size="20.8" text-anchor="end" stroke="#000">NL: 1.09e5</text>
<g transform="translate(0 0)">
<text x="37" y="870" font-size="19" stroke="#000">K<tspan font-size="14.2" dy="4.9" dx="1.5" letter-spacing="-0.7">110</tspan></text>
<path d="M76.6 859.4 L94.9 851.1 L118.4 863.1 L142.2 850.7 L165.6 863.1 L189.1 850.7 L212.9 863.1 L236.4 850.7 L260.5 863.8 L260.5 878.7" fill="none" stroke="#000" stroke-width="2.45" stroke-linejoin="miter" stroke-linecap="butt"/>
<line x1="212.9" y1="863.1" x2="212.9" y2="878.7" stroke="#000" stroke-width="2.45"/>
<line x1="91.6" y1="834.5" x2="91.6" y2="852" stroke="#000" stroke-width="2.45"/>
<line x1="98.2" y1="834.5" x2="98.2" y2="852" stroke="#000" stroke-width="2.45"/>
<text x="94.9" y="831" font-size="19.8" text-anchor="middle" stroke="#000">O</text>
<text x="210.6" y="896.6" font-size="19.8" text-anchor="middle" stroke="#000">S</text>
<text x="258.9" y="896.6" font-size="19.8" text-anchor="middle" stroke="#000">S</text>
</g>
<g transform="translate(0 0)">
<line x1="202.1" y1="896.4" x2="188.4" y2="903.7" stroke="#3350dc" stroke-width="2.45"/>
<path d="M186.5 930.4 L188.4 903.7 L163.5 892.6 L147.1 912.6 L152.8 924.7" fill="none" stroke="#3350dc" stroke-width="2.45" stroke-linejoin="miter" stroke-linecap="butt"/>
<line x1="186.5" y1="930.4" x2="170.8" y2="934.3" stroke="#3350dc" stroke-width="2.45"/>
<line x1="148.28" y1="910.21" x2="130.01" y2="908.22" stroke="#3350dc" stroke-width="2.45"/>
<line x1="147.66" y1="915.98" x2="129.39" y2="913.98" stroke="#3350dc" stroke-width="2.45"/>
<text x="117.4" y="918.8" font-size="19.8" text-anchor="middle" fill="#3350dc" stroke="#3350dc">O</text>
<line x1="183.3" y1="930.84" x2="195.72" y2="942.93" stroke="#3350dc" stroke-width="2.45"/>
<line x1="187.06" y1="926.97" x2="199.48" y2="939.07" stroke="#3350dc" stroke-width="2.45"/>
<text x="204.8" y="957.4" font-size="19.8" text-anchor="middle" fill="#3350dc" stroke="#3350dc">O</text>
<text x="158.1" y="945.2" font-size="19.8" text-anchor="middle" fill="#3350dc" stroke="#3350dc">N</text>
<path d="M153.9 948.8 L148.6 961.4 L120.3 964.1" fill="none" stroke="#3350dc" stroke-width="2.45" stroke-linejoin="miter" stroke-linecap="butt"/>
</g>
<g transform="translate(0 0)">
<line x1="269.5" y1="896.4" x2="283.2" y2="903.7" stroke="#3350dc" stroke-width="2.45"/>
<path d="M285.9 930.4 L283.2 903.7 L307.7 892.6 L324.6 912.6 L318.8 925.1" fill="none" stroke="#3350dc" stroke-width="2.45" stroke-linejoin="miter" stroke-linecap="butt"/>
<line x1="285.9" y1="930.4" x2="300.8" y2="934.1" stroke="#3350dc" stroke-width="2.45"/>
<line x1="324.37" y1="915.97" x2="341.7" y2="914.18" stroke="#3350dc" stroke-width="2.45"/>
<line x1="323.78" y1="910.2" x2="341.1" y2="908.42" stroke="#3350dc" stroke-width="2.45"/>
<text x="353.1" y="918.8" font-size="19.8" text-anchor="middle" fill="#3350dc" stroke="#3350dc">O</text>
<line x1="284.98" y1="927.46" x2="272.45" y2="939.23" stroke="#3350dc" stroke-width="2.45"/>
<line x1="288.68" y1="931.4" x2="276.15" y2="943.17" stroke="#3350dc" stroke-width="2.45"/>
<text x="265.6" y="957.6" font-size="19.8" text-anchor="middle" fill="#3350dc" stroke="#3350dc">O</text>
<text x="311.2" y="945.2" font-size="19.8" text-anchor="middle" fill="#3350dc" stroke="#3350dc">N</text>
<path d="M318 949.2 L323 961 L351.3 964.1" fill="none" stroke="#3350dc" stroke-width="2.45" stroke-linejoin="miter" stroke-linecap="butt"/>
</g>
<line x1="145.71" y1="1249.7" x2="259.3" y2="1249.7" stroke="#d9d9d9" stroke-width="2.9" stroke-linecap="round" stroke-dasharray="9.93 7.43"/>
<path d="M146 1085.3 V1358.9 H260.5" fill="none" stroke="#000" stroke-width="3" stroke-linejoin="miter" stroke-linecap="butt"/>
<line x1="131.5" y1="1086.8" x2="146" y2="1086.8" stroke="#000" stroke-width="3"/>
<text x="128.8" y="1095" font-size="22.9" text-anchor="end" stroke="#000">2.5</text>
<line x1="131.5" y1="1141.22" x2="146" y2="1141.22" stroke="#000" stroke-width="3"/>
<text x="128.8" y="1149.42" font-size="22.9" text-anchor="end" stroke="#000">2.0</text>
<line x1="131.5" y1="1195.64" x2="146" y2="1195.64" stroke="#000" stroke-width="3"/>
<text x="128.8" y="1203.84" font-size="22.9" text-anchor="end" stroke="#000">1.5</text>
<line x1="131.5" y1="1250.06" x2="146" y2="1250.06" stroke="#000" stroke-width="3"/>
<text x="128.8" y="1258.26" font-size="22.9" text-anchor="end" stroke="#000">1.0</text>
<line x1="131.5" y1="1304.48" x2="146" y2="1304.48" stroke="#000" stroke-width="3"/>
<text x="128.8" y="1312.68" font-size="22.9" text-anchor="end" stroke="#000">0.5</text>
<line x1="131.5" y1="1358.9" x2="146" y2="1358.9" stroke="#000" stroke-width="3"/>
<text x="128.8" y="1367.1" font-size="22.9" text-anchor="end" stroke="#000">0.0</text>
<line x1="178.4" y1="1358.9" x2="178.4" y2="1373.4" stroke="#000" stroke-width="3"/>
<text x="191.7" y="1390" font-size="26.2" text-anchor="end" transform="rotate(-38.6 191.7 1390)" stroke="#000" style="font-kerning:normal">Vehicle</text>
<line x1="228.4" y1="1358.9" x2="228.4" y2="1373.4" stroke="#000" stroke-width="3"/>
<text x="242.5" y="1391.6" font-size="26.2" text-anchor="end" transform="rotate(-40 242.5 1391.6)" stroke="#000">DEG</text>
<text x="56.8" y="1223.2" font-size="26.2" text-anchor="middle" transform="rotate(-90 56.8 1223.2)" stroke="#000">2NEM-dihydrolipoate</text>
<text x="84.4" y="1223.6" font-size="26.2" text-anchor="middle" transform="rotate(-90 84.4 1223.6)" stroke="#000">(relative to vehicle)</text>
<text x="129.3" y="1053" font-size="29.1" stroke="#000" style="font-kerning:normal">OGDHc-E2 K110 Lp</text>
<circle cx="167.1" cy="1249.7" r="5" fill="#a7a9ac"/>
<circle cx="174.7" cy="1249.7" r="5" fill="#a7a9ac"/>
<circle cx="182.3" cy="1249.7" r="5" fill="#a7a9ac"/>
<circle cx="189.9" cy="1249.7" r="5" fill="#a7a9ac"/>
<line x1="228.4" y1="1226.4" x2="228.4" y2="1252.2" stroke="#000" stroke-width="3"/>
<line x1="220.2" y1="1226.4" x2="236.6" y2="1226.4" stroke="#000" stroke-width="3" stroke-linecap="round"/>
<line x1="220.2" y1="1252.2" x2="236.6" y2="1252.2" stroke="#000" stroke-width="3" stroke-linecap="round"/>
<line x1="212.4" y1="1239.5" x2="244.4" y2="1239.5" stroke="#000" stroke-width="3"/>
<circle cx="216.8" cy="1230" r="5" fill="#eba651"/>
<circle cx="239.6" cy="1227" r="5" fill="#eba651"/>
<circle cx="216.8" cy="1252.6" r="5" fill="#eba651"/>
<circle cx="239.6" cy="1247.6" r="5" fill="#eba651"/>
<text x="296" y="1222" font-size="20.8" text-anchor="middle" transform="rotate(-90 296 1222)" stroke="#000">Relative abundance (AU)</text>
<path d="M345.3 1213.4L353.3 1213.4L353.66 1213.25L353.8 1212.58L354.02 1211.55L354.3 1210.24L354.38 1209.86L354.74 1211.53L354.8 1211.81L355.11 1213.25L355.3 1213.27L355.8 1213.4L364.37 1213.4L364.72 1212.18L364.8 1211.92L365.08 1211.04L365.3 1211.74L365.43 1212.15L365.79 1213.4L375.41 1213.4L375.77 1212.15L375.8 1212.06L376.12 1211.04L376.3 1211.6L376.48 1212.18L376.8 1213.2L376.83 1213.4L379.9 1213.4L380.25 1212.17L380.3 1212.01L380.61 1211.04L380.8 1211.65L380.96 1212.16L381.3 1213.24L381.32 1213.4L384.04 1213.4L384.3 1212.46L384.39 1212.17L384.75 1211.04L384.8 1211.2L385.1 1212.15L385.3 1212.79L385.46 1213.4L399.57 1213.4L399.8 1212.55L399.92 1212.17L400.28 1211.05L400.3 1211.11L400.63 1212.16L400.8 1212.7L400.99 1213.4L427.3 1213.4L427.8 1213.23L428.3 1213.03L428.8 1212.72L429.27 1212.28L429.3 1211.44L429.78 1198.06L429.8 1197.51L430.3 1183.94L430.8 1197.69L430.81 1197.96L431.3 1211.62L431.33 1212.38L431.8 1212.71L432.3 1212.96L432.8 1213.01L433.3 1212.77L433.8 1212.13L434.3 1211.08L434.72 1209.82L434.8 1202.51L435.27 1159.73L435.3 1157.01L435.8 1112.15L435.82 1110.76L436.3 1153.79L436.37 1160.12L436.8 1199.26L436.92 1210.03L437.3 1210.99L437.8 1212.06L438.3 1212.69L438.8 1212.85L439.3 1212.53L439.8 1211.71L440.3 1210.45L440.58 1209.64L440.8 1187.63L441.13 1154.17L441.3 1137.05L441.68 1099.13L441.8 1110.27L442.23 1153.38L442.3 1160.46L442.78 1209.23L442.8 1209.67L443.3 1211.06L443.8 1212.08L444.3 1212.55L444.8 1212.41L445.3 1211.66L445.8 1210.41L446.1 1209.53L446.3 1189.04L446.65 1152.45L446.8 1136.87L447.2 1095.71L447.3 1104.92L447.75 1151.41L447.8 1156.62L448.3 1208.98L448.8 1210.91L449.3 1211.97L449.8 1212.45L450.3 1212.33L450.8 1211.72L451.28 1210.86L451.3 1209.56L451.8 1175.54L451.83 1173.51L452.3 1141.95L452.38 1136.63L452.8 1164.6L452.93 1173.38L453.3 1198.53L453.48 1210.81L453.8 1211.48L454.3 1212.3L454.8 1212.8L455.3 1212.95L455.8 1212.77L456.3 1212.31L456.8 1211.69L457.3 1188.74L457.35 1186.45L457.8 1165.98L457.9 1161.48L458.3 1179.41L458.45 1186.26L458.8 1202.36L459 1211.6L459.3 1212.08L459.8 1212.64L460.3 1212.99L460.8 1213.12L461.3 1213.03L461.8 1212.77L462.3 1212.41L462.38 1212.31L462.8 1200.28L462.9 1197.43L463.3 1186.12L463.42 1182.75L463.8 1193.28L463.95 1197.54L464.3 1207.54L464.47 1212.35L464.8 1212.6L465.3 1212.94L465.8 1213.15L466.3 1213.23L466.8 1213.2L467.3 1213.1L467.79 1212.97L467.8 1212.87L468.2 1207.78L468.3 1206.52L468.6 1202.77L468.8 1205.28L469 1207.81L469.3 1211.62L469.41 1212.98L469.8 1213.08L470.3 1213.2L470.8 1213.4L472.3 1213.4L472.8 1213.27L473.3 1213.21L473.38 1213.2L473.75 1210.94L473.8 1210.63L474.12 1208.67L474.3 1209.77L474.49 1210.94L474.8 1212.85L474.86 1213.2L475.3 1213.25L475.8 1213.4L483.3 1213.4L483.8 1213.28L484.09 1213.25L484.3 1212.28L484.46 1211.52L484.8 1209.93L484.82 1209.87L485.18 1211.55L485.3 1212.12L485.54 1213.25L485.8 1213.27L486.3 1213.4L504.3 1213.4L504.8 1213.26L505.3 1213.16L505.78 1213.03L505.8 1212.83L506.17 1209.04L506.3 1207.72L506.56 1205.16L506.8 1207.59L506.95 1209.12L507.3 1212.7L507.34 1213.07L507.8 1213.16L508.3 1213.25L508.8 1213.4L509.3 1213.4L509.8 1213.27L510.3 1213.16L510.8 1213L511.23 1212.82L511.3 1211.68L511.65 1206.04L511.8 1203.63L512.08 1199.26L512.3 1202.76L512.5 1205.97L512.8 1210.8L512.93 1212.85L513.3 1212.98L513.8 1213.14L514.3 1213.25L514.8 1213.27L515.3 1213.19L515.8 1213.01L516.3 1212.74L516.64 1212.49L516.8 1208.66L517.12 1201.03L517.3 1196.77L517.6 1189.8L517.8 1194.49L518.08 1201.11L518.3 1206.35L518.56 1212.54L518.8 1212.68L519.3 1212.96L519.8 1213.14L520.3 1213.2L520.8 1213.1L521.3 1212.85L521.8 1212.46L522.03 1212.26L522.3 1204.05L522.58 1195.46L522.8 1188.76L523.12 1179.14L523.3 1184.56L523.66 1195.5L523.8 1199.78L524.21 1212.26L524.3 1212.34L524.8 1212.73L525.3 1212.99L525.8 1213.05L526.3 1212.9L526.8 1212.57L527.2 1212.08L527.3 1208.94L527.75 1194.81L527.8 1193.25L528.3 1178.08L528.8 1193.54L528.85 1195.1L529.3 1209.23L529.4 1212.24L529.8 1212.58L530.3 1212.93L530.8 1213.11L531.3 1213.1L531.8 1212.89L532.3 1212.49L532.72 1211.95L532.8 1209.09L533.27 1192.38L533.3 1191.31L533.8 1173.78L533.82 1173.34L534.3 1190.15L534.37 1192.63L534.8 1207.92L534.92 1212.08L535.3 1212.45L535.8 1212.83L536.3 1213.02L536.8 1212.96L537.3 1212.69L537.8 1212.27L537.89 1212.19L538.3 1198.95L538.44 1194.42L538.8 1182.87L538.99 1176.83L539.3 1186.55L539.54 1194.27L539.8 1202.69L540.09 1212.12L540.3 1212.39L540.8 1212.8L541.3 1213.08L541.8 1213.18L542.3 1213.12L542.8 1212.92L543.3 1212.62L543.52 1212.48L543.8 1205.44L544.02 1199.83L544.3 1192.75L544.51 1187.48L544.8 1194.59L545.01 1199.91L545.3 1207.3L545.5 1212.42L545.8 1212.67L546.3 1212.96L546.8 1213.16L547.3 1213.24L547.8 1213.2L548.3 1213.06L548.8 1212.84L549.13 1212.68L549.3 1209.23L549.58 1203.58L549.8 1199.16L550.03 1194.58L550.3 1199.78L550.49 1203.6L550.8 1209.86L550.94 1212.69L551.3 1212.86L551.8 1213.08L552.3 1213.23L552.8 1213.4L553.8 1213.4L554.3 1213.23L554.8 1213.16L555.18 1210.31L555.3 1209.41L555.56 1207.52L555.8 1209.32L555.93 1210.3L556.3 1213.1L556.31 1213.16L556.8 1213.23L557.3 1213.4L558.8 1213.4L559.3 1213.26L559.8 1213.16L560.3 1213.03L560.69 1209.05L560.8 1207.93L561.08 1205.16L561.3 1207.39L561.47 1209.11L561.8 1212.49L561.86 1213.07L562.3 1213.15L562.8 1213.25L563.3 1213.4L563.8 1213.4L564.3 1213.28L564.8 1213.2L565.3 1213.1L565.47 1213.07L565.8 1209.72L565.86 1209.11L566.25 1205.15L566.3 1205.6L566.64 1209.05L566.8 1210.69L567.03 1213.04L567.3 1213.12L567.8 1213.22L568.3 1213.4L570.3 1213.4L570.8 1213.27L571.05 1213.25L571.3 1212.07L571.41 1211.55L571.77 1209.87L571.8 1209.98L572.14 1211.57L572.3 1212.32L572.5 1213.25L572.8 1213.28L573.3 1213.4L581.3 1213.4L581.8 1213.28L582.09 1213.25L582.3 1212.27L582.45 1211.56L582.8 1209.93L582.82 1209.87L583.18 1211.56L583.3 1212.12L583.54 1213.25L583.8 1213.27L584.3 1213.4L597.3 1213.4" fill="none" stroke="#000" stroke-width="1.85" stroke-linejoin="round"/>
<path d="M340.3 1095.2 H345.3 V1213.7 H597.5" fill="none" stroke="#000" stroke-width="1.6" stroke-linejoin="miter" stroke-linecap="butt"/>
<line x1="340.3" y1="1213.7" x2="345.3" y2="1213.7" stroke="#000" stroke-width="1.6"/>
<text x="337.8" y="1100.4" font-size="19.6" text-anchor="end" stroke="#000">100</text>
<text x="336.8" y="1218.9" font-size="19.6" text-anchor="end" stroke="#000">0</text>
<line x1="351.91" y1="1213.7" x2="351.91" y2="1217.7" stroke="#000" stroke-width="1.6"/>
<line x1="362.84" y1="1213.7" x2="362.84" y2="1217.7" stroke="#000" stroke-width="1.6"/>
<line x1="373.77" y1="1213.7" x2="373.77" y2="1217.7" stroke="#000" stroke-width="1.6"/>
<line x1="384.7" y1="1213.7" x2="384.7" y2="1220" stroke="#000" stroke-width="1.6"/>
<line x1="395.63" y1="1213.7" x2="395.63" y2="1217.7" stroke="#000" stroke-width="1.6"/>
<line x1="406.56" y1="1213.7" x2="406.56" y2="1217.7" stroke="#000" stroke-width="1.6"/>
<line x1="417.49" y1="1213.7" x2="417.49" y2="1217.7" stroke="#000" stroke-width="1.6"/>
<line x1="428.42" y1="1213.7" x2="428.42" y2="1220" stroke="#000" stroke-width="1.6"/>
<line x1="439.35" y1="1213.7" x2="439.35" y2="1217.7" stroke="#000" stroke-width="1.6"/>
<line x1="450.28" y1="1213.7" x2="450.28" y2="1217.7" stroke="#000" stroke-width="1.6"/>
<line x1="461.21" y1="1213.7" x2="461.21" y2="1217.7" stroke="#000" stroke-width="1.6"/>
<line x1="472.14" y1="1213.7" x2="472.14" y2="1220" stroke="#000" stroke-width="1.6"/>
<line x1="483.07" y1="1213.7" x2="483.07" y2="1217.7" stroke="#000" stroke-width="1.6"/>
<line x1="494" y1="1213.7" x2="494" y2="1217.7" stroke="#000" stroke-width="1.6"/>
<line x1="504.93" y1="1213.7" x2="504.93" y2="1217.7" stroke="#000" stroke-width="1.6"/>
<line x1="515.86" y1="1213.7" x2="515.86" y2="1220" stroke="#000" stroke-width="1.6"/>
<line x1="526.79" y1="1213.7" x2="526.79" y2="1217.7" stroke="#000" stroke-width="1.6"/>
<line x1="537.72" y1="1213.7" x2="537.72" y2="1217.7" stroke="#000" stroke-width="1.6"/>
<line x1="548.65" y1="1213.7" x2="548.65" y2="1217.7" stroke="#000" stroke-width="1.6"/>
<line x1="559.58" y1="1213.7" x2="559.58" y2="1220" stroke="#000" stroke-width="1.6"/>
<line x1="570.51" y1="1213.7" x2="570.51" y2="1217.7" stroke="#000" stroke-width="1.6"/>
<line x1="581.44" y1="1213.7" x2="581.44" y2="1217.7" stroke="#000" stroke-width="1.6"/>
<line x1="592.37" y1="1213.7" x2="592.37" y2="1217.7" stroke="#000" stroke-width="1.6"/>
<text x="597.5" y="1102.8" font-size="20.8" text-anchor="end" stroke="#000" style="font-kerning:normal">Vehicle</text>
<text x="597.5" y="1125.2" font-size="20.8" text-anchor="end" stroke="#000">NL: 4.09e5</text>
<path d="M345.3 1350.4L346.3 1350.4L346.8 1350.25L347.3 1350.15L347.74 1350.03L347.8 1349.41L348.13 1346.03L348.3 1344.3L348.52 1342.15L348.8 1344.99L348.91 1346.11L349.3 1350.07L349.8 1350.17L350.3 1350.26L350.8 1350.4L353.3 1350.4L353.66 1350.24L353.8 1349.58L354.02 1348.55L354.3 1347.23L354.38 1346.86L354.74 1348.52L354.8 1348.81L355.11 1350.25L355.3 1350.27L355.8 1350.4L374.3 1350.4L374.8 1350.24L375.3 1350.17L375.37 1350.16L375.75 1347.27L375.8 1346.9L376.12 1344.49L376.3 1345.82L376.5 1347.33L376.8 1349.6L376.87 1350.13L377.3 1350.21L377.8 1350.27L378.3 1350.4L378.8 1350.4L379.3 1350.26L379.8 1350.21L379.87 1350.2L380.24 1347.91L380.3 1347.54L380.61 1345.68L380.8 1346.84L380.98 1347.94L381.3 1349.92L381.35 1350.2L381.8 1350.23L382.3 1350.25L382.8 1350.23L383.3 1350.15L383.8 1350.05L383.95 1350.02L384.3 1346.04L384.35 1345.47L384.75 1340.95L384.8 1341.52L385.14 1345.4L385.3 1347.23L385.54 1350L385.8 1350.08L386.3 1350.19L386.8 1350.4L389.8 1350.4L390.3 1350.24L390.8 1350.17L390.9 1350.14L391.27 1347.33L391.3 1347.11L391.65 1344.48L391.8 1345.61L392.03 1347.34L392.3 1349.39L392.4 1350.15L392.8 1350.21L393.3 1350.4L422.8 1350.4L423.3 1350.21L423.68 1350.15L423.8 1349.24L424.05 1347.34L424.3 1345.46L424.43 1344.48L424.8 1347.26L424.81 1347.33L425.18 1350.14L425.3 1350.17L425.8 1350.24L426.3 1350.4L427.3 1350.4L427.8 1350.18L428.3 1349.92L428.8 1349.53L429.2 1349.05L429.3 1345.68L429.75 1330.59L429.8 1328.92L430.3 1312.62L430.8 1329.14L430.85 1330.81L431.3 1345.9L431.4 1349.15L431.8 1349.52L432.3 1349.88L432.8 1350.02L433.3 1349.88L433.8 1349.41L434.3 1348.61L434.72 1347.64L434.8 1342L435.27 1308.99L435.3 1306.9L435.8 1272.29L435.82 1271.22L436.3 1304.42L436.37 1309.3L436.8 1339.49L436.92 1347.8L437.3 1348.54L437.8 1349.35L438.3 1349.82L438.8 1349.89L439.3 1349.52L439.8 1348.66L440.3 1347.35L440.58 1346.52L440.8 1323.79L441.13 1289.24L441.3 1271.55L441.68 1232.4L441.8 1243.9L442.23 1288.42L442.3 1295.73L442.78 1346.09L442.8 1346.55L443.3 1347.98L443.8 1349.06L444.3 1349.58L444.8 1349.51L445.3 1348.88L445.8 1347.79L446.1 1347.02L446.3 1329.17L446.65 1297.29L446.8 1283.7L447.2 1247.83L447.3 1255.86L447.75 1296.38L447.8 1300.92L448.3 1346.55L448.8 1348.23L449.3 1349.13L449.8 1349.52L450.3 1349.35L450.8 1348.7L451.28 1347.82L451.3 1346.5L451.8 1311.89L451.83 1309.83L452.3 1277.73L452.38 1272.32L452.8 1300.77L452.93 1309.7L453.3 1335.27L453.48 1347.76L453.8 1348.45L454.3 1349.29L454.8 1349.81L455.3 1349.98L455.8 1349.85L456.3 1349.46L456.8 1348.92L457.3 1329.07L457.35 1327.08L457.8 1309.38L457.9 1305.49L458.3 1320.99L458.45 1326.92L458.8 1340.85L459 1348.84L459.3 1349.26L459.8 1349.74L460.3 1350.05L460.8 1350.17L461.3 1350.11L461.8 1349.91L462.3 1349.63L462.46 1349.54L462.8 1341.46L462.94 1338.12L463.3 1329.61L463.42 1326.79L463.8 1335.6L463.9 1337.98L464.3 1347.53L464.38 1349.45L464.8 1349.79L465.3 1350.05L465.8 1350.23L466.3 1350.4L472.3 1350.4L472.8 1350.22L473.3 1350.1L473.67 1350.02L473.8 1348.54L474.07 1345.43L474.3 1342.81L474.47 1340.98L474.8 1344.74L474.86 1345.43L475.26 1350.02L475.3 1350.03L475.8 1350.14L476.3 1350.25L476.8 1350.4L477.8 1350.4L478.3 1350.27L478.8 1350.21L478.9 1350.2L479.27 1347.94L479.3 1347.75L479.64 1345.67L479.8 1346.63L480.01 1347.92L480.3 1349.72L480.38 1350.2L480.8 1350.25L481.3 1350.4L503.8 1350.4L504.3 1350.22L504.8 1350.03L505.3 1349.78L505.62 1349.61L505.8 1345.69L506.09 1339.29L506.3 1334.67L506.56 1329.17L506.8 1334.4L507.02 1339.23L507.3 1345.42L507.49 1349.61L507.8 1349.77L508.3 1350.01L508.8 1350.16L509.3 1350.17L509.8 1350.01L510.3 1349.66L510.8 1349.15L510.98 1348.85L511.3 1336.41L511.53 1327.51L511.8 1317.14L512.08 1306.69L512.3 1315.06L512.63 1327.72L512.8 1334.3L513.18 1348.96L513.3 1349.09L513.8 1349.6L514.3 1349.94L514.8 1350.04L515.3 1349.88L515.8 1349.44L516.3 1348.78L516.5 1348.41L516.8 1332.96L517.05 1320.15L517.3 1307.42L517.6 1292.47L517.8 1302.53L518.15 1320.32L518.3 1328L518.7 1348.49L518.8 1348.64L519.3 1349.32L519.8 1349.79L520.3 1349.97L520.8 1349.82L521.3 1349.36L521.8 1348.65L522.02 1348.26L522.3 1332.37L522.57 1317.12L522.8 1304.21L523.12 1286.5L523.3 1296.47L523.67 1317.18L523.8 1324.52L524.22 1348.29L524.3 1348.42L524.8 1349.15L525.3 1349.64L525.8 1349.75L526.3 1349.47L526.8 1348.85L527.2 1347.94L527.3 1342.05L527.75 1315.65L527.8 1312.73L528.3 1284.36L528.8 1313.27L528.85 1316.19L529.3 1342.6L529.4 1348.23L529.8 1348.88L530.3 1349.53L530.8 1349.88L531.3 1349.88L531.8 1349.53L532.3 1348.87L532.72 1347.97L532.8 1343.17L533.27 1315.09L533.3 1313.31L533.8 1283.87L533.82 1283.12L534.3 1311.36L534.37 1315.52L534.8 1341.2L534.92 1348.18L535.3 1348.8L535.8 1349.46L536.3 1349.78L536.8 1349.72L537.3 1349.32L537.8 1348.69L537.89 1348.56L538.3 1328.45L538.44 1321.58L538.8 1304.03L538.99 1294.87L539.3 1309.62L539.54 1321.34L539.8 1334.13L540.09 1348.45L540.3 1348.86L540.8 1349.49L541.3 1349.91L541.8 1350.08L542.3 1350L542.8 1349.72L543.3 1349.29L543.41 1349.19L543.8 1336.61L543.96 1331.43L544.3 1320.49L544.51 1313.81L544.8 1322.83L545.06 1331.2L545.3 1338.98L545.61 1349.08L545.8 1349.36L546.3 1349.78L546.8 1350.07L547.3 1350.19L547.8 1350.15L548.3 1349.97L548.8 1349.7L549.07 1349.54L549.3 1344.12L549.55 1338.16L549.8 1332.23L550.03 1326.83L550.3 1332.97L550.51 1337.94L550.8 1344.86L551 1349.54L551.3 1349.72L551.8 1349.99L552.3 1350.18L552.8 1350.27L553.3 1350.26L553.8 1350.17L554.3 1350.02L554.72 1349.89L554.8 1348.68L555.14 1343.57L555.3 1341.18L555.56 1337.44L555.8 1341.01L555.97 1343.55L556.3 1348.52L556.39 1349.88L556.8 1350.02L557.3 1350.17L557.8 1350.28L558.3 1350.4L559.3 1350.4L559.8 1350.26L560.3 1350.21L560.34 1350.2L560.71 1347.91L560.8 1347.36L561.08 1345.68L561.3 1347.03L561.45 1347.95L561.8 1350.11L561.81 1350.18L562.3 1350.26L562.8 1350.4L564.3 1350.4L564.8 1350.26L565.3 1350.18L565.5 1350.16L565.8 1347.89L565.88 1347.28L566.25 1344.5L566.3 1344.83L566.63 1347.32L566.8 1348.61L567 1350.12L567.3 1350.2L567.8 1350.27L568.3 1350.4L597.3 1350.4" fill="none" stroke="#000" stroke-width="1.85" stroke-linejoin="round"/>
<path d="M340.3 1232 H345.3 V1350.7 H597.5" fill="none" stroke="#000" stroke-width="1.6" stroke-linejoin="miter" stroke-linecap="butt"/>
<line x1="340.3" y1="1350.7" x2="345.3" y2="1350.7" stroke="#000" stroke-width="1.6"/>
<text x="337.8" y="1237.6" font-size="19.6" text-anchor="end" stroke="#000">100</text>
<text x="336.8" y="1356.3" font-size="19.6" text-anchor="end" stroke="#000">0</text>
<line x1="351.91" y1="1350.7" x2="351.91" y2="1354.7" stroke="#000" stroke-width="1.6"/>
<line x1="362.84" y1="1350.7" x2="362.84" y2="1354.7" stroke="#000" stroke-width="1.6"/>
<line x1="373.77" y1="1350.7" x2="373.77" y2="1354.7" stroke="#000" stroke-width="1.6"/>
<line x1="384.7" y1="1350.7" x2="384.7" y2="1357" stroke="#000" stroke-width="1.6"/>
<line x1="395.63" y1="1350.7" x2="395.63" y2="1354.7" stroke="#000" stroke-width="1.6"/>
<line x1="406.56" y1="1350.7" x2="406.56" y2="1354.7" stroke="#000" stroke-width="1.6"/>
<line x1="417.49" y1="1350.7" x2="417.49" y2="1354.7" stroke="#000" stroke-width="1.6"/>
<line x1="428.42" y1="1350.7" x2="428.42" y2="1357" stroke="#000" stroke-width="1.6"/>
<line x1="439.35" y1="1350.7" x2="439.35" y2="1354.7" stroke="#000" stroke-width="1.6"/>
<line x1="450.28" y1="1350.7" x2="450.28" y2="1354.7" stroke="#000" stroke-width="1.6"/>
<line x1="461.21" y1="1350.7" x2="461.21" y2="1354.7" stroke="#000" stroke-width="1.6"/>
<line x1="472.14" y1="1350.7" x2="472.14" y2="1357" stroke="#000" stroke-width="1.6"/>
<line x1="483.07" y1="1350.7" x2="483.07" y2="1354.7" stroke="#000" stroke-width="1.6"/>
<line x1="494" y1="1350.7" x2="494" y2="1354.7" stroke="#000" stroke-width="1.6"/>
<line x1="504.93" y1="1350.7" x2="504.93" y2="1354.7" stroke="#000" stroke-width="1.6"/>
<line x1="515.86" y1="1350.7" x2="515.86" y2="1357" stroke="#000" stroke-width="1.6"/>
<line x1="526.79" y1="1350.7" x2="526.79" y2="1354.7" stroke="#000" stroke-width="1.6"/>
<line x1="537.72" y1="1350.7" x2="537.72" y2="1354.7" stroke="#000" stroke-width="1.6"/>
<line x1="548.65" y1="1350.7" x2="548.65" y2="1354.7" stroke="#000" stroke-width="1.6"/>
<line x1="559.58" y1="1350.7" x2="559.58" y2="1357" stroke="#000" stroke-width="1.6"/>
<line x1="570.51" y1="1350.7" x2="570.51" y2="1354.7" stroke="#000" stroke-width="1.6"/>
<line x1="581.44" y1="1350.7" x2="581.44" y2="1354.7" stroke="#000" stroke-width="1.6"/>
<line x1="592.37" y1="1350.7" x2="592.37" y2="1354.7" stroke="#000" stroke-width="1.6"/>
<text x="597.5" y="1239.8" font-size="20.8" text-anchor="end" stroke="#000">DEG</text>
<text x="597.5" y="1262.6" font-size="20.8" text-anchor="end" stroke="#000">NL: 6.27e5</text>
<text x="384.7" y="1375.1" font-size="20.4" text-anchor="middle" stroke="#000" style="font-kerning:normal">1186</text>
<text x="472.14" y="1375.1" font-size="20.4" text-anchor="middle" stroke="#000" style="font-kerning:normal">1190</text>
<text x="559.58" y="1375.1" font-size="20.4" text-anchor="middle" stroke="#000" style="font-kerning:normal">1194</text>
<text x="471" y="1391" font-size="20.8" text-anchor="middle" font-style="italic" stroke="#000">m/z</text>
<g transform="translate(655.5 0)">
<text x="37" y="870" font-size="19" stroke="#000">K<tspan font-size="14.2" dy="4.9" dx="1.5" letter-spacing="-0.7">110</tspan></text>
<path d="M76.6 859.4 L94.9 851.1 L118.4 863.1 L142.2 850.7 L165.6 863.1 L189.1 850.7 L212.9 863.1 L236.4 850.7 L260.5 863.8 L260.5 878.7" fill="none" stroke="#000" stroke-width="2.45" stroke-linejoin="miter" stroke-linecap="butt"/>
<line x1="212.9" y1="863.1" x2="212.9" y2="878.7" stroke="#000" stroke-width="2.45"/>
<line x1="91.6" y1="834.5" x2="91.6" y2="852" stroke="#000" stroke-width="2.45"/>
<line x1="98.2" y1="834.5" x2="98.2" y2="852" stroke="#000" stroke-width="2.45"/>
<text x="94.9" y="831" font-size="19.8" text-anchor="middle" stroke="#000">O</text>
<text x="211.8" y="898.2" font-size="19.8" text-anchor="middle" stroke="#000">S</text>
<text x="258.3" y="898.2" font-size="19.8" text-anchor="middle" stroke="#000">S</text>
</g>
<g transform="translate(656.2 0.4)">
<line x1="202.1" y1="896.4" x2="188.4" y2="903.7" stroke="#3350dc" stroke-width="2.45"/>
<path d="M186.5 930.4 L188.4 903.7 L163.5 892.6 L147.1 912.6 L152.8 924.7" fill="none" stroke="#3350dc" stroke-width="2.45" stroke-linejoin="miter" stroke-linecap="butt"/>
<line x1="186.5" y1="930.4" x2="170.8" y2="934.3" stroke="#3350dc" stroke-width="2.45"/>
<line x1="148.28" y1="910.21" x2="130.01" y2="908.22" stroke="#3350dc" stroke-width="2.45"/>
<line x1="147.66" y1="915.98" x2="129.39" y2="913.98" stroke="#3350dc" stroke-width="2.45"/>
<text x="117.4" y="918.8" font-size="19.8" text-anchor="middle" fill="#3350dc" stroke="#3350dc">O</text>
<line x1="183.3" y1="930.84" x2="195.72" y2="942.93" stroke="#3350dc" stroke-width="2.45"/>
<line x1="187.06" y1="926.97" x2="199.48" y2="939.07" stroke="#3350dc" stroke-width="2.45"/>
<text x="204.8" y="957.4" font-size="19.8" text-anchor="middle" fill="#3350dc" stroke="#3350dc">O</text>
<text x="158.1" y="945.2" font-size="19.8" text-anchor="middle" fill="#3350dc" stroke="#3350dc">N</text>
<path d="M153.9 948.8 L148.6 961.4 L120.3 964.1" fill="none" stroke="#3350dc" stroke-width="2.45" stroke-linejoin="miter" stroke-linecap="butt"/>
</g>
<line x1="924.5" y1="896.9" x2="938.9" y2="904.1" stroke="#d57b2d" stroke-width="1.9"/>
<path d="M938.9 904.1 L938.9 931.3 L962.7 945.1 L962.7 971.4 L985.2 984.5 L985.2 1001.4" fill="none" stroke="#d57b2d" stroke-width="1.9" stroke-linejoin="miter" stroke-linecap="butt"/>
<line x1="939.4" y1="907.39" x2="953.47" y2="899.52" stroke="#d57b2d" stroke-width="1.9"/>
<line x1="936.46" y1="902.16" x2="950.53" y2="894.28" stroke="#d57b2d" stroke-width="1.9"/>
<text x="961" y="899.4" font-size="19.8" text-anchor="middle" fill="#d57b2d" stroke="#d57b2d">O</text>
<line x1="985.8" y1="987.56" x2="1001.97" y2="979.27" stroke="#d57b2d" stroke-width="1.9"/>
<line x1="983.06" y1="982.23" x2="999.23" y2="973.93" stroke="#d57b2d" stroke-width="1.9"/>
<text x="1009.2" y="979.6" font-size="19.8" text-anchor="middle" fill="#d57b2d" stroke="#d57b2d">O</text>
<text x="978" y="1020.4" font-size="19.4" fill="#d57b2d" stroke="#d57b2d">OH</text>
<line x1="802.61" y1="1233.6" x2="917.6" y2="1233.6" stroke="#d9d9d9" stroke-width="2.9" stroke-linecap="round" stroke-dasharray="9.93 7.43"/>
<path d="M802.9 1068.5 V1342.6 H918.8" fill="none" stroke="#000" stroke-width="3" stroke-linejoin="miter" stroke-linecap="butt"/>
<line x1="788.4" y1="1070" x2="802.9" y2="1070" stroke="#000" stroke-width="3"/>
<text x="784.9" y="1078.2" font-size="22.9" text-anchor="end" stroke="#000">2.5</text>
<line x1="788.4" y1="1124.52" x2="802.9" y2="1124.52" stroke="#000" stroke-width="3"/>
<text x="784.9" y="1132.72" font-size="22.9" text-anchor="end" stroke="#000">2.0</text>
<line x1="788.4" y1="1179.04" x2="802.9" y2="1179.04" stroke="#000" stroke-width="3"/>
<text x="784.9" y="1187.24" font-size="22.9" text-anchor="end" stroke="#000">1.5</text>
<line x1="788.4" y1="1233.56" x2="802.9" y2="1233.56" stroke="#000" stroke-width="3"/>
<text x="784.9" y="1241.76" font-size="22.9" text-anchor="end" stroke="#000">1.0</text>
<line x1="788.4" y1="1288.08" x2="802.9" y2="1288.08" stroke="#000" stroke-width="3"/>
<text x="784.9" y="1296.28" font-size="22.9" text-anchor="end" stroke="#000">0.5</text>
<line x1="788.4" y1="1342.6" x2="802.9" y2="1342.6" stroke="#000" stroke-width="3"/>
<text x="784.9" y="1350.8" font-size="22.9" text-anchor="end" stroke="#000">0.0</text>
<line x1="835.3" y1="1342.6" x2="835.3" y2="1357.1" stroke="#000" stroke-width="3"/>
<text x="848.8" y="1371.6" font-size="26.2" text-anchor="end" transform="rotate(-38.6 848.8 1371.6)" stroke="#000" style="font-kerning:normal">Vehicle</text>
<line x1="885" y1="1342.6" x2="885" y2="1357.1" stroke="#000" stroke-width="3"/>
<text x="899.8" y="1374.1" font-size="26.2" text-anchor="end" transform="rotate(-40 899.8 1374.1)" stroke="#000">DEG</text>
<text x="712.8" y="1207" font-size="26.2" text-anchor="middle" transform="rotate(-90 712.8 1207)" stroke="#000">NEM-glutaryl-lipoate</text>
<text x="740.7" y="1207" font-size="26.2" text-anchor="middle" transform="rotate(-90 740.7 1207)" stroke="#000">(relative to vehicle)</text>
<text x="788.4" y="1052.8" font-size="29.1" stroke="#000" style="font-kerning:normal">OGDHc-E2 K110 Lp<tspan font-size="20.8" dy="12.8" dx="0.1">glu</tspan></text>
<circle cx="824" cy="1233.6" r="5" fill="#a7a9ac"/>
<circle cx="831.6" cy="1233.6" r="5" fill="#a7a9ac"/>
<circle cx="839.2" cy="1233.6" r="5" fill="#a7a9ac"/>
<circle cx="846.8" cy="1233.6" r="5" fill="#a7a9ac"/>
<line x1="885" y1="1161.5" x2="885" y2="1313.3" stroke="#000" stroke-width="3"/>
<line x1="876.8" y1="1161.5" x2="893.2" y2="1161.5" stroke="#000" stroke-width="3" stroke-linecap="round"/>
<line x1="876.8" y1="1313.3" x2="893.2" y2="1313.3" stroke="#000" stroke-width="3" stroke-linecap="round"/>
<line x1="869" y1="1237.4" x2="901" y2="1237.4" stroke="#000" stroke-width="3"/>
<circle cx="885" cy="1146.6" r="5" fill="#eba651"/>
<circle cx="885" cy="1227" r="5" fill="#eba651"/>
<circle cx="885" cy="1245" r="5" fill="#eba651"/>
<circle cx="885" cy="1331.6" r="5" fill="#eba651"/>
<text x="950.8" y="1222" font-size="20.8" text-anchor="middle" transform="rotate(-90 950.8 1222)" stroke="#000">Relative abundance (AU)</text>
<path d="M999.1 1214L1002.6 1214L1003.1 1213.87L1003.32 1213.85L1003.6 1212.52L1003.68 1212.14L1004.04 1210.45L1004.1 1210.69L1004.41 1212.15L1004.6 1213.05L1004.77 1213.85L1005.1 1213.88L1005.6 1214L1037.1 1214L1037.6 1213.74L1038.1 1213.39L1038.6 1212.81L1039.1 1212.05L1039.18 1211.71L1039.6 1188.2L1039.73 1180.96L1040.1 1160.51L1040.28 1151.09L1040.6 1168.65L1040.83 1181.39L1041.1 1196.46L1041.38 1211.93L1041.6 1212.28L1042.1 1213.01L1042.6 1213.52L1043.1 1213.8L1043.6 1214L1052.6 1214L1053.1 1213.68L1053.6 1213.26L1054.1 1212.54L1054.6 1211.59L1054.7 1211.39L1055.1 1183.35L1055.25 1172.79L1055.6 1148.32L1055.8 1134.48L1056.1 1154.72L1056.35 1172.22L1056.6 1189.85L1056.9 1211.09L1057.1 1211.77L1057.6 1212.7L1058.1 1213.36L1058.6 1213.74L1059.1 1214L1067.6 1214L1068.1 1213.84L1068.6 1213.59L1069.1 1213.13L1069.6 1212.46L1069.89 1211.85L1070.1 1200.73L1070.44 1182.79L1070.6 1174.39L1070.99 1154.41L1071.1 1160.04L1071.54 1182.79L1071.6 1185.92L1072.09 1211.4L1072.1 1211.41L1072.17 1211.42L1072.6 1203.7L1072.61 1203.52L1073.06 1195.52L1073.1 1196.32L1073.5 1204.29L1073.6 1206.28L1073.95 1213.18L1074.1 1213.28L1074.6 1213.58L1075.1 1213.78L1075.6 1214L1077.1 1214L1077.6 1213.86L1078.1 1213.63L1078.6 1213.17L1079.1 1212.45L1079.55 1211.57L1079.6 1208.4L1080.1 1176.76L1080.6 1145.55L1080.65 1142.62L1081.1 1170.63L1081.2 1176.92L1081.6 1202.21L1081.75 1211.65L1082.1 1212.28L1082.6 1213.03L1083.1 1213.5L1083.6 1213.66L1084.1 1213.56L1084.6 1213.24L1085.1 1212.72L1085.11 1212.71L1085.6 1197.93L1085.64 1196.72L1086.1 1182.65L1086.17 1180.5L1086.6 1192.02L1086.7 1194.69L1087.1 1205.32L1087.14 1206.39L1087.23 1199.49L1087.6 1160.75L1087.69 1151.36L1088.1 1108.92L1088.24 1094.55L1088.6 1131.97L1088.79 1151.9L1089.1 1184.61L1089.34 1210.02L1089.6 1210.84L1090.1 1212.2L1090.6 1213.14L1091.1 1213.65L1091.6 1213.87L1092.1 1214L1092.6 1214L1093.1 1213.69L1093.6 1213.26L1094.1 1212.53L1094.6 1211.54L1094.73 1211.26L1095.1 1184.01L1095.28 1170.76L1095.6 1147.38L1095.83 1130.75L1096.1 1150.06L1096.38 1170.53L1096.6 1186.73L1096.93 1211.14L1097.1 1211.61L1097.6 1212.59L1098.1 1213.28L1098.6 1213.66L1099.1 1213.77L1099.6 1213.7L1100.1 1213.49L1100.5 1213.23L1100.6 1211.61L1100.93 1206.03L1101.1 1203.13L1101.35 1198.83L1101.6 1202.38L1101.78 1204.98L1102.1 1209.55L1102.2 1210.97L1102.32 1210.79L1102.6 1190.68L1102.87 1171.17L1103.1 1154.65L1103.42 1131.88L1103.6 1144.3L1103.97 1170.98L1104.1 1180.42L1104.52 1211.06L1104.6 1211.44L1105.1 1212.45L1105.6 1213.21L1106.1 1213.66L1106.6 1213.87L1107.1 1214L1107.6 1214L1108.1 1213.86L1108.6 1213.65L1109.1 1213.25L1109.6 1212.66L1109.91 1212.25L1110.1 1203.41L1110.46 1186.34L1110.6 1179.75L1111.01 1160.61L1111.1 1164.37L1111.56 1185.92L1111.6 1187.81L1112.1 1211.55L1112.11 1212.03L1112.6 1212.88L1113.1 1213.41L1113.6 1213.73L1114.1 1213.87L1114.6 1214L1115.1 1213.84L1115.6 1213.73L1116.1 1213.56L1116.49 1209.45L1116.6 1208.28L1116.88 1205.29L1117.1 1207.39L1117.27 1209.02L1117.6 1212.16L1117.66 1212.73L1117.88 1212.55L1118.1 1205.92L1118.41 1196.61L1118.6 1190.94L1118.95 1180.59L1119.1 1184.99L1119.49 1196.7L1119.6 1200.02L1120.02 1212.77L1120.1 1212.93L1120.6 1213.35L1121.1 1213.66L1121.6 1213.85L1122.1 1214L1124.1 1214L1124.6 1213.86L1125.1 1213.74L1125.6 1213.61L1125.74 1213.51L1126.1 1208.9L1126.14 1208.39L1126.54 1203.31L1126.6 1204.01L1126.95 1208.45L1127.1 1210.37L1127.35 1213.57L1127.6 1213.64L1128.1 1213.77L1128.6 1213.88L1129.1 1214L1132.1 1214L1132.6 1213.87L1133.1 1213.79L1133.38 1213.76L1133.6 1212.09L1133.76 1210.87L1134.1 1208.3L1134.13 1208.07L1134.51 1210.89L1134.6 1211.57L1134.89 1213.76L1135.1 1213.78L1135.6 1213.86L1136.1 1214L1146.6 1214L1147.1 1213.85L1147.54 1213.8L1147.6 1213.45L1147.91 1211.53L1148.1 1210.35L1148.28 1209.25L1148.6 1211.2L1148.65 1211.51L1149.02 1213.8L1149.1 1213.81L1149.6 1213.87L1150.1 1214L1186.1 1214L1186.6 1213.84L1187.1 1213.77L1187.21 1213.76L1187.59 1210.87L1187.6 1210.8L1187.96 1208.08L1188.1 1209.07L1188.34 1210.89L1188.6 1212.87L1188.72 1213.76L1189.1 1213.81L1189.6 1214L1193.1 1214L1193.6 1213.87L1194.1 1213.77L1194.6 1213.65L1194.76 1213.62L1195.1 1209.7L1195.16 1209.01L1195.56 1204.52L1195.6 1204.98L1195.95 1209L1196.1 1210.73L1196.35 1213.62L1196.6 1213.67L1197.1 1213.79L1197.6 1214L1200.6 1214L1201.1 1213.78L1201.6 1213.58L1202.1 1213.35L1202.24 1213.28L1202.6 1205.98L1202.69 1204.15L1203.1 1195.88L1203.15 1195L1203.6 1204.07L1204.05 1213.24L1204.1 1213.3L1204.6 1213.54L1205.1 1213.75L1205.6 1214L1208.1 1214L1208.6 1213.84L1209.1 1213.7L1209.6 1213.51L1209.88 1213.32L1210.1 1209.5L1210.31 1205.87L1210.6 1200.88L1210.74 1198.54L1211.1 1204.71L1211.17 1205.92L1211.6 1213.37L1212.1 1213.59L1212.6 1213.77L1213.1 1214L1215.6 1214L1216.1 1213.8L1216.6 1213.6L1217.1 1213.33L1217.38 1213.17L1217.6 1208.14L1217.86 1202.12L1218.1 1196.61L1218.33 1191.37L1218.6 1197.53L1218.8 1202.13L1219.1 1209.07L1219.28 1213.17L1219.6 1213.35L1220.1 1213.62L1220.6 1213.81L1221.1 1214L1223.1 1214L1223.6 1213.83L1224.1 1213.64L1224.6 1213.38L1224.97 1213.17L1225.1 1210.26L1225.45 1202.16L1225.6 1198.71L1225.92 1191.4L1226.1 1195.44L1226.39 1202.1L1226.6 1206.95L1226.87 1213.17L1227.1 1213.3L1227.6 1213.57L1228.1 1213.78L1228.6 1214L1231.1 1214L1231.6 1213.87L1232.1 1213.74L1232.6 1213.55L1232.99 1213.4L1233.1 1211.57L1233.43 1205.86L1233.6 1202.93L1233.86 1198.55L1234.1 1202.66L1234.29 1205.93L1234.6 1211.3L1234.72 1213.39L1235.1 1213.55L1235.6 1213.73L1236.1 1213.86L1236.6 1214L1239.1 1214L1239.6 1213.82L1240.1 1213.68L1240.6 1213.54L1240.63 1213.5L1241.04 1207.76L1241.1 1206.93L1241.45 1202.1L1241.6 1204.17L1241.86 1207.78L1242.1 1211.14L1242.27 1213.52L1242.6 1213.62L1243.1 1213.77L1243.6 1213.88L1244.1 1214L1247.6 1214" fill="none" stroke="#000" stroke-width="1.85" stroke-linejoin="round"/>
<path d="M994.1 1094.9 H999.1 V1214.3 H1247.8" fill="none" stroke="#000" stroke-width="1.6" stroke-linejoin="miter" stroke-linecap="butt"/>
<line x1="994.1" y1="1214.3" x2="999.1" y2="1214.3" stroke="#000" stroke-width="1.6"/>
<text x="991.6" y="1101.5" font-size="19.6" text-anchor="end" stroke="#000">100</text>
<text x="990.6" y="1220.9" font-size="19.6" text-anchor="end" stroke="#000">0</text>
<line x1="1009.65" y1="1214.3" x2="1009.65" y2="1218.3" stroke="#000" stroke-width="1.6"/>
<line x1="1024.97" y1="1214.3" x2="1024.97" y2="1218.3" stroke="#000" stroke-width="1.6"/>
<line x1="1040.3" y1="1214.3" x2="1040.3" y2="1220.6" stroke="#000" stroke-width="1.6"/>
<line x1="1055.62" y1="1214.3" x2="1055.62" y2="1218.3" stroke="#000" stroke-width="1.6"/>
<line x1="1070.95" y1="1214.3" x2="1070.95" y2="1218.3" stroke="#000" stroke-width="1.6"/>
<line x1="1086.27" y1="1214.3" x2="1086.27" y2="1218.3" stroke="#000" stroke-width="1.6"/>
<line x1="1101.6" y1="1214.3" x2="1101.6" y2="1220.6" stroke="#000" stroke-width="1.6"/>
<line x1="1116.92" y1="1214.3" x2="1116.92" y2="1218.3" stroke="#000" stroke-width="1.6"/>
<line x1="1132.25" y1="1214.3" x2="1132.25" y2="1218.3" stroke="#000" stroke-width="1.6"/>
<line x1="1147.58" y1="1214.3" x2="1147.58" y2="1218.3" stroke="#000" stroke-width="1.6"/>
<line x1="1162.9" y1="1214.3" x2="1162.9" y2="1220.6" stroke="#000" stroke-width="1.6"/>
<line x1="1178.22" y1="1214.3" x2="1178.22" y2="1218.3" stroke="#000" stroke-width="1.6"/>
<line x1="1193.55" y1="1214.3" x2="1193.55" y2="1218.3" stroke="#000" stroke-width="1.6"/>
<line x1="1208.88" y1="1214.3" x2="1208.88" y2="1218.3" stroke="#000" stroke-width="1.6"/>
<line x1="1224.2" y1="1214.3" x2="1224.2" y2="1220.6" stroke="#000" stroke-width="1.6"/>
<line x1="1239.52" y1="1214.3" x2="1239.52" y2="1218.3" stroke="#000" stroke-width="1.6"/>
<text x="1247.8" y="1103.7" font-size="20.8" text-anchor="end" stroke="#000" style="font-kerning:normal">Vehicle</text>
<text x="1247.8" y="1126.2" font-size="20.8" text-anchor="end" stroke="#000">NL: 3.82e5</text>
<path d="M999.1 1351L1016.46 1351L1016.6 1350.72L1016.81 1350.38L1017.1 1349.9L1017.16 1349.81L1017.5 1350.37L1017.6 1350.53L1017.85 1351L1037.1 1351L1037.6 1350.87L1038.1 1350.7L1038.6 1350.42L1039.1 1350.04L1039.23 1349.94L1039.6 1339.31L1039.75 1335L1040.1 1325.01L1040.28 1320.15L1040.6 1329.22L1040.8 1334.93L1041.1 1343.57L1041.32 1349.93L1041.6 1350.16L1042.1 1350.51L1042.6 1350.76L1043.1 1351L1052.6 1351L1053.1 1350.85L1053.6 1350.66L1054.1 1350.33L1054.6 1349.88L1054.7 1349.79L1055.1 1336.82L1055.25 1331.93L1055.6 1320.61L1055.8 1314.21L1056.1 1323.57L1056.35 1331.67L1056.6 1339.82L1056.9 1349.66L1057.1 1349.97L1057.6 1350.4L1058.1 1350.7L1058.6 1350.88L1059.1 1351L1068.1 1351L1068.6 1350.77L1069.1 1350.51L1069.6 1350.11L1069.91 1349.82L1070.1 1344.17L1070.45 1333.5L1070.6 1328.93L1070.99 1317.31L1071.1 1320.5L1071.52 1332.72L1071.6 1335.06L1071.96 1345.53L1072.06 1345.15L1072.1 1343.83L1072.51 1330.34L1072.6 1327.4L1073.06 1312.6L1073.1 1313.94L1073.6 1330.78L1073.61 1331.12L1074.1 1347.75L1074.16 1349.7L1074.6 1350.15L1075.1 1350.55L1075.6 1350.8L1076.1 1351L1077.1 1351L1077.6 1350.85L1078.1 1350.59L1078.6 1350.1L1079.1 1349.32L1079.55 1348.37L1079.6 1344.93L1080.1 1310.66L1080.6 1276.85L1080.65 1273.67L1081.1 1304.02L1081.2 1310.83L1081.6 1338.23L1081.75 1348.46L1082.1 1349.14L1082.6 1349.96L1083.1 1350.49L1083.6 1350.74L1084.1 1350.77L1084.6 1350.64L1085.1 1350.36L1085.33 1350.17L1085.6 1345.93L1085.75 1343.5L1086.1 1337.73L1086.17 1336.56L1086.59 1341.89L1086.6 1342.01L1087.01 1346.97L1087.1 1346.72L1087.14 1346.62L1087.6 1298.21L1087.69 1288.79L1088.1 1246.18L1088.24 1231.77L1088.6 1269.09L1088.79 1288.99L1089.1 1321.66L1089.34 1347.05L1089.6 1347.86L1090.1 1349.21L1090.6 1350.14L1091.1 1350.65L1091.6 1350.87L1092.1 1351L1092.6 1350.87L1093.1 1350.64L1093.6 1350.15L1094.1 1349.32L1094.6 1348.19L1094.73 1347.87L1095.1 1316.73L1095.28 1301.59L1095.6 1274.87L1095.83 1255.85L1096.1 1277.92L1096.38 1301.32L1096.6 1319.83L1096.93 1347.73L1097.1 1348.27L1097.6 1349.39L1098.1 1350.2L1098.6 1350.67L1099.1 1350.88L1099.6 1351L1100.1 1351L1100.6 1350.76L1101.1 1350.41L1101.6 1349.78L1102.1 1348.89L1102.32 1348.46L1102.6 1329.42L1102.87 1310.95L1103.1 1295.32L1103.42 1273.79L1103.6 1285.46L1103.97 1310.54L1104.1 1319.41L1104.52 1348.25L1104.6 1348.61L1105.1 1349.54L1105.6 1350.25L1106.1 1350.68L1106.6 1350.88L1107.1 1351L1107.6 1351L1108.1 1350.86L1108.6 1350.65L1109.1 1350.25L1109.6 1349.66L1109.91 1349.25L1110.1 1340.41L1110.46 1323.34L1110.6 1316.75L1111.01 1297.61L1111.1 1301.37L1111.56 1322.92L1111.6 1324.81L1112.1 1348.55L1112.11 1349.03L1112.6 1349.88L1113.1 1350.41L1113.6 1350.74L1114.1 1351L1116.1 1351L1116.6 1350.76L1117.1 1350.51L1117.6 1350.15L1117.89 1349.91L1118.1 1343.77L1118.42 1334.32L1118.6 1329.04L1118.95 1318.87L1119.1 1323.16L1119.48 1334.26L1119.6 1337.8L1120.01 1349.91L1120.1 1349.98L1120.6 1350.37L1121.1 1350.68L1121.6 1350.86L1122.1 1351L1124.6 1351L1125.1 1350.83L1125.6 1350.74L1125.78 1350.68L1126.1 1347.8L1126.16 1347.26L1126.54 1343.88L1126.6 1344.36L1126.93 1347.31L1127.1 1348.83L1127.31 1350.71L1127.6 1350.76L1128.1 1350.85L1128.6 1351L1132.6 1351L1133.1 1350.88L1133.41 1350.85L1133.6 1349.95L1133.77 1349.14L1134.1 1347.59L1134.13 1347.45L1134.5 1349.15L1134.6 1349.63L1134.86 1350.85L1135.1 1350.87L1135.6 1351L1141.36 1351L1141.6 1350.13L1141.72 1349.74L1142.07 1348.62L1142.1 1348.71L1142.43 1349.77L1142.6 1350.32L1142.78 1351L1178.1 1351L1178.6 1350.88L1179.1 1350.8L1179.6 1350.71L1179.61 1350.68L1179.99 1347.26L1180.1 1346.28L1180.37 1343.88L1180.6 1345.88L1180.76 1347.31L1181.1 1350.36L1181.14 1350.71L1181.6 1350.79L1182.1 1350.87L1182.6 1351L1185.6 1351L1186.1 1350.77L1186.6 1350.59L1187.1 1350.4L1187.53 1342.96L1187.6 1341.76L1187.96 1335.59L1188.1 1337.84L1188.4 1342.99L1188.6 1346.45L1188.83 1350.4L1189.1 1350.51L1189.6 1350.69L1190.1 1350.84L1190.6 1351L1193.1 1351L1193.6 1350.76L1194.1 1350.57L1194.6 1350.35L1194.66 1350.32L1195.1 1341.87L1195.11 1341.68L1195.56 1333.22L1195.6 1333.98L1196 1341.66L1196.1 1343.59L1196.45 1350.32L1196.6 1350.39L1197.1 1350.61L1197.6 1350.79L1198.1 1351L1200.1 1351L1200.6 1350.87L1201.1 1350.72L1201.6 1350.48L1202.1 1350.19L1202.19 1350.05L1202.6 1340.18L1202.67 1338.51L1203.1 1328.29L1203.15 1327.25L1203.6 1337.93L1203.63 1338.65L1204.1 1349.95L1204.11 1350.14L1204.6 1350.43L1205.1 1350.68L1205.6 1350.85L1206.1 1351L1207.6 1351L1208.1 1350.84L1208.6 1350.63L1209.1 1350.3L1209.6 1349.86L1209.64 1349.78L1210.1 1335.21L1210.19 1332.37L1210.6 1319.55L1210.74 1315.32L1211.1 1326.51L1211.29 1332.47L1211.6 1342.26L1211.84 1349.83L1212.1 1350.06L1212.6 1350.46L1213.1 1350.74L1213.6 1351L1215.1 1351L1215.6 1350.87L1216.1 1350.69L1216.6 1350.39L1217.1 1349.98L1217.24 1349.86L1217.6 1338.8L1217.79 1332.94L1218.1 1323.44L1218.33 1316.46L1218.6 1324.66L1218.87 1332.95L1219.1 1340.05L1219.42 1349.86L1219.6 1350.01L1220.1 1350.42L1220.6 1350.71L1221.1 1350.88L1221.6 1351L1223.1 1351L1223.6 1350.76L1224.1 1350.51L1224.6 1350.16L1224.88 1349.85L1225.1 1343.49L1225.4 1334.86L1225.6 1329.14L1225.92 1320.07L1226.1 1325.08L1226.44 1334.78L1226.6 1339.38L1226.97 1349.94L1227.1 1350.04L1227.6 1350.42L1228.1 1350.7L1228.6 1350.87L1229.1 1351L1231.1 1351L1231.6 1350.82L1232.1 1350.63L1232.6 1350.38L1232.93 1350.1L1233.1 1346.3L1233.39 1339.85L1233.6 1335.22L1233.86 1329.61L1234.1 1334.87L1234.32 1339.73L1234.6 1345.95L1234.79 1350.19L1235.1 1350.37L1235.6 1350.63L1236.1 1350.81L1236.6 1351L1238.6 1351L1239.1 1350.88L1239.6 1350.75L1240.1 1350.56L1240.57 1350.36L1240.6 1349.85L1241.01 1342.31L1241.1 1340.67L1241.45 1334.34L1241.6 1337.05L1241.89 1342.34L1242.1 1346.19L1242.33 1350.36L1242.6 1350.47L1243.1 1350.68L1243.6 1350.83L1244.1 1351L1247.6 1351" fill="none" stroke="#000" stroke-width="1.85" stroke-linejoin="round"/>
<path d="M994.1 1231.9 H999.1 V1351.3 H1247.8" fill="none" stroke="#000" stroke-width="1.6" stroke-linejoin="miter" stroke-linecap="butt"/>
<line x1="994.1" y1="1351.3" x2="999.1" y2="1351.3" stroke="#000" stroke-width="1.6"/>
<text x="991.6" y="1238.5" font-size="19.6" text-anchor="end" stroke="#000">100</text>
<text x="990.6" y="1357.9" font-size="19.6" text-anchor="end" stroke="#000">0</text>
<line x1="1009.65" y1="1351.3" x2="1009.65" y2="1355.3" stroke="#000" stroke-width="1.6"/>
<line x1="1024.97" y1="1351.3" x2="1024.97" y2="1355.3" stroke="#000" stroke-width="1.6"/>
<line x1="1040.3" y1="1351.3" x2="1040.3" y2="1357.6" stroke="#000" stroke-width="1.6"/>
<line x1="1055.62" y1="1351.3" x2="1055.62" y2="1355.3" stroke="#000" stroke-width="1.6"/>
<line x1="1070.95" y1="1351.3" x2="1070.95" y2="1355.3" stroke="#000" stroke-width="1.6"/>
<line x1="1086.27" y1="1351.3" x2="1086.27" y2="1355.3" stroke="#000" stroke-width="1.6"/>
<line x1="1101.6" y1="1351.3" x2="1101.6" y2="1357.6" stroke="#000" stroke-width="1.6"/>
<line x1="1116.92" y1="1351.3" x2="1116.92" y2="1355.3" stroke="#000" stroke-width="1.6"/>
<line x1="1132.25" y1="1351.3" x2="1132.25" y2="1355.3" stroke="#000" stroke-width="1.6"/>
<line x1="1147.58" y1="1351.3" x2="1147.58" y2="1355.3" stroke="#000" stroke-width="1.6"/>
<line x1="1162.9" y1="1351.3" x2="1162.9" y2="1357.6" stroke="#000" stroke-width="1.6"/>
<line x1="1178.22" y1="1351.3" x2="1178.22" y2="1355.3" stroke="#000" stroke-width="1.6"/>
<line x1="1193.55" y1="1351.3" x2="1193.55" y2="1355.3" stroke="#000" stroke-width="1.6"/>
<line x1="1208.88" y1="1351.3" x2="1208.88" y2="1355.3" stroke="#000" stroke-width="1.6"/>
<line x1="1224.2" y1="1351.3" x2="1224.2" y2="1357.6" stroke="#000" stroke-width="1.6"/>
<line x1="1239.52" y1="1351.3" x2="1239.52" y2="1355.3" stroke="#000" stroke-width="1.6"/>
<text x="1247.8" y="1240.7" font-size="20.8" text-anchor="end" stroke="#000">DEG</text>
<text x="1247.8" y="1263.6" font-size="20.8" text-anchor="end" stroke="#000">NL: 1.62e6</text>
<text x="1040.3" y="1375.1" font-size="20.4" text-anchor="middle" stroke="#000" style="font-kerning:normal">1170</text>
<text x="1101.6" y="1375.1" font-size="20.4" text-anchor="middle" stroke="#000" style="font-kerning:normal">1172</text>
<text x="1162.9" y="1375.1" font-size="20.4" text-anchor="middle" stroke="#000" style="font-kerning:normal">1174</text>
<text x="1224.2" y="1375.1" font-size="20.4" text-anchor="middle" stroke="#000" style="font-kerning:normal">1176</text>
<text x="1123.5" y="1392.4" font-size="20.8" text-anchor="middle" font-style="italic" stroke="#000">m/z</text>
<g transform="translate(1266.8 811.8)">
<text x="122" y="203" font-size="19.8" stroke="#000">K<tspan font-size="14.2" dy="5.2" dx="-1.3" letter-spacing="-0.7">110</tspan></text>
<path d="M159.5 193.1 L177.4 183 L201.2 196.6 L224.6 182.5 L248.4 196.6 L271.4 183 L285 190.8" fill="none" stroke="#d57b2d" stroke-width="1.9" stroke-linejoin="miter" stroke-linecap="butt"/>
<line x1="173.95" y1="166.6" x2="173.95" y2="184.3" stroke="#d57b2d" stroke-width="1.9"/>
<line x1="180.85" y1="166.6" x2="180.85" y2="184.3" stroke="#d57b2d" stroke-width="1.9"/>
<text x="177.8" y="162.1" font-size="19.8" text-anchor="middle" fill="#d57b2d" stroke="#d57b2d">O</text>
<line x1="267.95" y1="166.6" x2="267.95" y2="184.3" stroke="#d57b2d" stroke-width="1.9"/>
<line x1="274.85" y1="166.6" x2="274.85" y2="184.3" stroke="#d57b2d" stroke-width="1.9"/>
<text x="271.8" y="162.1" font-size="19.8" text-anchor="middle" fill="#d57b2d" stroke="#d57b2d">O</text>
<text x="287" y="203" font-size="19.6" fill="#d57b2d" stroke="#d57b2d">OH</text>
</g>
<line x1="1404.91" y1="1233.3" x2="1519.3" y2="1233.3" stroke="#d9d9d9" stroke-width="2.9" stroke-linecap="round" stroke-dasharray="9.93 7.43"/>
<path d="M1405.2 1068.9 V1342.1 H1520.5" fill="none" stroke="#000" stroke-width="3" stroke-linejoin="miter" stroke-linecap="butt"/>
<line x1="1390.7" y1="1070.4" x2="1405.2" y2="1070.4" stroke="#000" stroke-width="3"/>
<text x="1387.2" y="1078.6" font-size="22.9" text-anchor="end" stroke="#000">2.5</text>
<line x1="1390.7" y1="1124.74" x2="1405.2" y2="1124.74" stroke="#000" stroke-width="3"/>
<text x="1387.2" y="1132.94" font-size="22.9" text-anchor="end" stroke="#000">2.0</text>
<line x1="1390.7" y1="1179.08" x2="1405.2" y2="1179.08" stroke="#000" stroke-width="3"/>
<text x="1387.2" y="1187.28" font-size="22.9" text-anchor="end" stroke="#000">1.5</text>
<line x1="1390.7" y1="1233.42" x2="1405.2" y2="1233.42" stroke="#000" stroke-width="3"/>
<text x="1387.2" y="1241.62" font-size="22.9" text-anchor="end" stroke="#000">1.0</text>
<line x1="1390.7" y1="1287.76" x2="1405.2" y2="1287.76" stroke="#000" stroke-width="3"/>
<text x="1387.2" y="1295.96" font-size="22.9" text-anchor="end" stroke="#000">0.5</text>
<line x1="1390.7" y1="1342.1" x2="1405.2" y2="1342.1" stroke="#000" stroke-width="3"/>
<text x="1387.2" y="1350.3" font-size="22.9" text-anchor="end" stroke="#000">0.0</text>
<line x1="1438.3" y1="1342.1" x2="1438.3" y2="1356.6" stroke="#000" stroke-width="3"/>
<text x="1451.6" y="1372.4" font-size="26.2" text-anchor="end" transform="rotate(-38.6 1451.6 1372.4)" stroke="#000" style="font-kerning:normal">Vehicle</text>
<line x1="1487.1" y1="1342.1" x2="1487.1" y2="1356.6" stroke="#000" stroke-width="3"/>
<text x="1501.7" y="1374.7" font-size="26.2" text-anchor="end" transform="rotate(-40 1501.7 1374.7)" stroke="#000">DEG</text>
<text x="1315.2" y="1206" font-size="26.2" text-anchor="middle" transform="rotate(-90 1315.2 1206)" stroke="#000">Glutaryl-lysine</text>
<text x="1343.5" y="1206" font-size="26.2" text-anchor="middle" transform="rotate(-90 1343.5 1206)" stroke="#000">(relative to vehicle)</text>
<text x="1389.3" y="1053.4" font-size="29.1" stroke="#000">OGDHc-E2 K110 K<tspan font-size="17.5" dy="10.9" dx="-0.5">glu</tspan></text>
<line x1="1426.8" y1="1233.3" x2="1449.2" y2="1233.3" stroke="#000" stroke-width="3"/>
<circle cx="1426.8" cy="1233.3" r="5.1" fill="#a7a9ac"/>
<circle cx="1438" cy="1233.3" r="5.1" fill="#a7a9ac"/>
<circle cx="1449.2" cy="1233.3" r="5.1" fill="#a7a9ac"/>
<line x1="1487.1" y1="1200.3" x2="1487.1" y2="1246.5" stroke="#000" stroke-width="3"/>
<line x1="1478.9" y1="1200.3" x2="1495.3" y2="1200.3" stroke="#000" stroke-width="3" stroke-linecap="round"/>
<line x1="1478.9" y1="1246.5" x2="1495.3" y2="1246.5" stroke="#000" stroke-width="3" stroke-linecap="round"/>
<line x1="1471.1" y1="1223.4" x2="1503.1" y2="1223.4" stroke="#000" stroke-width="3"/>
<circle cx="1487.1" cy="1204.4" r="5.1" fill="#f0b866"/>
<circle cx="1487.1" cy="1216.6" r="5.1" fill="#f0b866"/>
<circle cx="1487.1" cy="1248.7" r="5.1" fill="#f0b866"/>
<text x="1554.8" y="1224.6" font-size="20.8" text-anchor="middle" transform="rotate(-90 1554.8 1224.6)" stroke="#000">Relative abundance (AU)</text>
<path d="M1606.6 1211.2L1607.6 1211.2L1608.09 1211.06L1608.1 1211.03L1608.6 1209.2L1608.76 1208.61L1609.1 1207.37L1609.43 1206.18L1609.6 1206.76L1610.07 1208.41L1610.1 1208.46L1610.6 1209.11L1610.72 1209.27L1610.77 1209.33L1611.1 1208.62L1611.38 1208.03L1611.6 1208.55L1612.03 1209.57L1612.1 1209.73L1612.6 1210.92L1612.68 1211.2L1615.94 1211.2L1616.1 1211.01L1616.58 1210.55L1616.6 1210.53L1617.1 1210.06L1617.21 1209.96L1617.6 1210.32L1617.84 1210.55L1618.1 1210.8L1618.47 1211.2L1626.63 1211.2L1627.1 1210.71L1627.27 1210.55L1627.6 1210.24L1627.9 1209.95L1628.1 1210.14L1628.53 1210.55L1628.6 1210.62L1629.1 1211.2L1632.44 1211.2L1632.6 1210.83L1633.09 1209.9L1633.1 1209.88L1633.6 1208.95L1633.73 1208.71L1634.1 1209.39L1634.38 1209.91L1634.6 1210.33L1635.02 1211.2L1636.35 1211.2L1636.6 1210.92L1636.99 1210.55L1637.1 1210.44L1637.6 1209.97L1637.62 1209.95L1638.1 1210.41L1638.25 1210.55L1638.6 1210.89L1638.89 1211.2L1640.6 1211.2L1641.1 1211.07L1641.14 1211.06L1641.6 1209.38L1641.81 1208.62L1642.1 1207.57L1642.48 1206.21L1642.6 1206.64L1643.1 1208.43L1643.15 1208.61L1643.6 1210.24L1643.82 1211.04L1644.1 1211.07L1644.13 1211.07L1644.6 1210.66L1644.76 1210.52L1645.1 1210.21L1645.4 1209.94L1645.6 1210.14L1646.03 1210.55L1646.1 1210.62L1646.6 1211.2L1653.6 1211.2L1654.1 1211.06L1654.6 1210.94L1654.62 1210.93L1655.1 1207.32L1655.35 1205.44L1655.6 1203.57L1656.09 1200L1656.1 1200.07L1656.6 1203.75L1656.82 1205.38L1657.1 1207.48L1657.56 1210.9L1657.6 1210.91L1658.1 1210.98L1658.6 1210.99L1658.62 1210.99L1659.1 1209.08L1659.3 1208.28L1659.6 1207.08L1659.98 1205.61L1660.1 1206.08L1660.6 1208.08L1660.65 1208.29L1661.1 1210.11L1661.33 1211.05L1661.6 1211.2L1665.6 1211.2L1666.1 1211.06L1666.6 1210.93L1666.72 1210.89L1667.1 1207.5L1667.48 1204.12L1667.6 1203.05L1668.1 1198.68L1668.24 1197.51L1668.6 1200.63L1669 1204.15L1669.1 1205.04L1669.6 1209.5L1669.76 1210.89L1670.1 1210.99L1670.6 1211.2L1673.24 1211.2L1673.6 1210.09L1673.9 1209.26L1674.1 1208.7L1674.56 1207.47L1674.6 1207.57L1675.1 1208.93L1675.21 1209.23L1675.6 1210.3L1675.87 1211.04L1676.1 1211.05L1676.18 1211.05L1676.6 1210.29L1676.83 1209.86L1677.1 1209.35L1677.47 1208.65L1677.6 1208.87L1678.1 1209.71L1678.12 1209.74L1678.6 1210.49L1678.74 1210.7L1678.76 1210.53L1679.1 1206.48L1679.57 1200.86L1679.6 1200.5L1680.1 1194.6L1680.39 1191.28L1680.6 1193.72L1681.1 1199.62L1681.21 1200.93L1681.6 1205.61L1682.03 1210.77L1682.1 1210.84L1682.6 1211.02L1683.1 1211.2L1684.93 1211.2L1685.1 1210.81L1685.57 1209.92L1685.6 1209.86L1686.1 1208.92L1686.22 1208.7L1686.6 1209.4L1686.87 1209.9L1687.1 1210.32L1687.51 1211.2L1687.6 1211.2L1687.85 1211.07L1688.1 1210.61L1688.49 1209.88L1688.6 1209.68L1689.1 1208.74L1689.14 1208.68L1689.6 1209.48L1689.78 1209.79L1690.1 1210.3L1690.43 1210.78L1690.6 1210.7L1690.64 1210.67L1691.1 1202.91L1691.59 1194.59L1691.6 1194.42L1692.1 1186L1692.54 1178.83L1692.6 1179.81L1693.1 1188.08L1693.49 1194.67L1693.6 1196.54L1694.1 1205.05L1694.44 1210.74L1694.6 1210.83L1695.1 1211.03L1695.6 1211.2L1701.6 1211.2L1702.1 1210.88L1702.6 1210.47L1702.69 1210.31L1703.1 1196.9L1703.6 1180.4L1703.69 1177.43L1704.1 1163.98L1704.6 1147.93L1704.69 1145.22L1705.1 1158.27L1705.6 1174.6L1705.69 1177.56L1706.1 1191.1L1706.6 1207.51L1706.69 1210.38L1707.1 1210.76L1707.6 1211.03L1708.1 1211.2L1713.1 1211.2L1713.6 1211.05L1714.1 1210.78L1714.6 1210.2L1714.84 1209.67L1715.1 1195.1L1715.6 1166.83L1715.84 1153.22L1716.1 1138.54L1716.6 1110.74L1716.84 1097.92L1717.1 1112.06L1717.6 1139.89L1717.84 1153.45L1718.1 1168.19L1718.6 1196.45L1718.84 1209.79L1719.1 1210.24L1719.6 1210.8L1720.1 1211.06L1720.6 1211.2L1725.6 1211.2L1726.1 1210.86L1726.6 1210.35L1726.99 1209.54L1727.1 1202.85L1727.6 1172.18L1727.99 1148.13L1728.1 1141.35L1728.6 1110.89L1728.99 1087.96L1729.1 1094.44L1729.6 1124.46L1729.99 1148.37L1730.1 1155.15L1730.6 1185.96L1730.99 1209.67L1731.1 1209.89L1731.6 1210.62L1732.1 1210.99L1732.6 1211.2L1737.6 1211.2L1738.1 1210.98L1738.6 1210.61L1739.1 1209.89L1739.14 1209.71L1739.6 1184.43L1740.1 1156.71L1740.14 1154.5L1740.6 1129.18L1741.1 1102.31L1741.14 1100.41L1741.6 1125.04L1742.1 1152.5L1742.14 1154.72L1742.6 1180.22L1743.1 1207.74L1743.14 1209.82L1743.6 1210.52L1744.1 1210.94L1744.6 1211.2L1750.1 1211.2L1750.6 1210.9L1751.1 1210.49L1751.29 1210.19L1751.6 1198.73L1752.1 1180.08L1752.29 1172.97L1752.6 1161.44L1753.1 1143.16L1753.29 1136.51L1753.6 1147.64L1754.1 1166.04L1754.29 1173.12L1754.6 1184.71L1755.1 1203.33L1755.29 1210.27L1755.6 1210.62L1756.1 1210.96L1756.6 1211.2L1762.1 1211.2L1762.6 1211.07L1763.1 1210.89L1763.44 1210.64L1763.6 1207.34L1764.1 1196.95L1764.44 1189.86L1764.6 1186.53L1765.1 1176.24L1765.44 1169.5L1765.6 1172.69L1766.1 1182.88L1766.44 1189.94L1766.6 1193.28L1767.1 1203.69L1767.44 1210.67L1767.6 1210.78L1768.1 1211L1768.55 1211.2L1768.6 1211.05L1769.1 1210.61L1769.18 1210.54L1769.6 1210.15L1769.81 1209.95L1770.1 1210.22L1770.44 1210.55L1770.6 1210.7L1771.08 1211.2L1774.6 1211.2L1775.1 1211.04L1775.6 1210.84L1775.77 1210.75L1776.1 1205.7L1776.6 1197.95L1776.68 1196.71L1777.1 1190.25L1777.59 1182.95L1777.6 1183.09L1778.1 1190.62L1778.5 1196.77L1778.6 1198.32L1779.1 1206.07L1779.4 1210.7L1779.6 1210.85L1780.1 1211.04L1780.6 1211.2L1787.6 1211.2L1788.1 1211.01L1788.3 1210.97L1788.6 1209.01L1789.02 1206.24L1789.1 1205.72L1789.6 1202.49L1789.74 1201.62L1790.1 1203.93L1790.46 1206.27L1790.6 1207.19L1791.1 1210.48L1791.17 1210.95L1791.6 1211.06L1792.1 1211.2L1800.1 1211.2L1800.52 1211.04L1800.6 1210.68L1801.1 1208.44L1801.2 1208L1801.6 1206.23L1801.89 1204.98L1802.1 1205.89L1802.57 1207.97L1802.6 1208.1L1803.1 1210.34L1803.25 1211.02L1803.6 1211.2L1812.75 1211.2L1813.1 1210.46L1813.39 1209.91L1813.6 1209.52L1814.04 1208.71L1814.1 1208.82L1814.6 1209.75L1814.68 1209.9L1815.1 1210.7L1815.33 1211.2L1833.18 1211.2L1833.6 1210.76L1833.82 1210.55L1834.1 1210.28L1834.45 1209.95L1834.6 1210.09L1835.08 1210.55L1835.1 1210.57L1835.6 1211.05L1835.72 1211.2L1848.74 1211.2L1849.1 1210.81L1849.37 1210.55L1849.6 1210.33L1850 1209.96L1850.1 1210.05L1850.6 1210.52L1850.63 1210.55L1851.1 1211L1851.27 1211.2L1855.6 1211.2" fill="none" stroke="#000" stroke-width="1.85" stroke-linejoin="round"/>
<path d="M1601.6 1086.6 H1606.6 V1211.5 H1856" fill="none" stroke="#000" stroke-width="1.6" stroke-linejoin="miter" stroke-linecap="butt"/>
<line x1="1601.6" y1="1211.5" x2="1606.6" y2="1211.5" stroke="#000" stroke-width="1.6"/>
<text x="1599.1" y="1093.8" font-size="19.6" text-anchor="end" stroke="#000">100</text>
<text x="1596.6" y="1218.7" font-size="19.6" text-anchor="end" stroke="#000">0</text>
<line x1="1606.6" y1="1211.5" x2="1606.6" y2="1215.5" stroke="#000" stroke-width="1.6"/>
<line x1="1608.46" y1="1211.5" x2="1608.46" y2="1215.5" stroke="#000" stroke-width="1.6"/>
<line x1="1618.18" y1="1211.5" x2="1618.18" y2="1215.5" stroke="#000" stroke-width="1.6"/>
<line x1="1627.9" y1="1211.5" x2="1627.9" y2="1217.8" stroke="#000" stroke-width="1.6"/>
<line x1="1637.62" y1="1211.5" x2="1637.62" y2="1215.5" stroke="#000" stroke-width="1.6"/>
<line x1="1647.34" y1="1211.5" x2="1647.34" y2="1215.5" stroke="#000" stroke-width="1.6"/>
<line x1="1657.06" y1="1211.5" x2="1657.06" y2="1215.5" stroke="#000" stroke-width="1.6"/>
<line x1="1666.78" y1="1211.5" x2="1666.78" y2="1215.5" stroke="#000" stroke-width="1.6"/>
<line x1="1676.5" y1="1211.5" x2="1676.5" y2="1217.8" stroke="#000" stroke-width="1.6"/>
<line x1="1686.22" y1="1211.5" x2="1686.22" y2="1215.5" stroke="#000" stroke-width="1.6"/>
<line x1="1695.94" y1="1211.5" x2="1695.94" y2="1215.5" stroke="#000" stroke-width="1.6"/>
<line x1="1705.66" y1="1211.5" x2="1705.66" y2="1215.5" stroke="#000" stroke-width="1.6"/>
<line x1="1715.38" y1="1211.5" x2="1715.38" y2="1215.5" stroke="#000" stroke-width="1.6"/>
<line x1="1725.1" y1="1211.5" x2="1725.1" y2="1217.8" stroke="#000" stroke-width="1.6"/>
<line x1="1734.82" y1="1211.5" x2="1734.82" y2="1215.5" stroke="#000" stroke-width="1.6"/>
<line x1="1744.54" y1="1211.5" x2="1744.54" y2="1215.5" stroke="#000" stroke-width="1.6"/>
<line x1="1754.26" y1="1211.5" x2="1754.26" y2="1215.5" stroke="#000" stroke-width="1.6"/>
<line x1="1763.98" y1="1211.5" x2="1763.98" y2="1215.5" stroke="#000" stroke-width="1.6"/>
<line x1="1773.7" y1="1211.5" x2="1773.7" y2="1217.8" stroke="#000" stroke-width="1.6"/>
<line x1="1783.42" y1="1211.5" x2="1783.42" y2="1215.5" stroke="#000" stroke-width="1.6"/>
<line x1="1793.14" y1="1211.5" x2="1793.14" y2="1215.5" stroke="#000" stroke-width="1.6"/>
<line x1="1802.86" y1="1211.5" x2="1802.86" y2="1215.5" stroke="#000" stroke-width="1.6"/>
<line x1="1812.58" y1="1211.5" x2="1812.58" y2="1215.5" stroke="#000" stroke-width="1.6"/>
<line x1="1822.3" y1="1211.5" x2="1822.3" y2="1217.8" stroke="#000" stroke-width="1.6"/>
<line x1="1832.02" y1="1211.5" x2="1832.02" y2="1215.5" stroke="#000" stroke-width="1.6"/>
<line x1="1841.74" y1="1211.5" x2="1841.74" y2="1215.5" stroke="#000" stroke-width="1.6"/>
<line x1="1851.46" y1="1211.5" x2="1851.46" y2="1215.5" stroke="#000" stroke-width="1.6"/>
<text x="1856" y="1096.2" font-size="20.8" text-anchor="end" stroke="#000" style="font-kerning:normal">Vehicle</text>
<text x="1856" y="1117.7" font-size="20.8" text-anchor="end" stroke="#000">NL: 5.41e4</text>
<path d="M1606.6 1357.1L1608.12 1357.1L1608.6 1355.65L1608.77 1355.18L1609.1 1354.27L1609.43 1353.38L1609.6 1353.83L1610.09 1355.17L1610.1 1355.2L1610.6 1356.59L1610.75 1357.1L1619.34 1357.1L1619.6 1356.82L1619.98 1356.45L1620.1 1356.34L1620.6 1355.87L1620.61 1355.86L1621.1 1356.32L1621.24 1356.45L1621.6 1356.8L1621.88 1357.1L1629.1 1357.1L1629.6 1356.55L1629.7 1356.45L1630.1 1356.07L1630.33 1355.86L1630.6 1356.11L1630.96 1356.45L1631.1 1356.59L1631.6 1357.1L1636.34 1357.1L1636.6 1356.68L1636.98 1356.13L1637.1 1355.96L1637.6 1355.26L1637.62 1355.24L1638.1 1355.91L1638.26 1356.13L1638.6 1356.62L1638.9 1357.1L1640.6 1357.1L1641.1 1356.94L1641.11 1356.94L1641.6 1354.76L1641.8 1353.87L1642.1 1352.54L1642.48 1350.89L1642.6 1351.4L1643.1 1353.6L1643.16 1353.87L1643.6 1355.83L1643.85 1356.94L1644.1 1356.97L1644.6 1357.1L1646.05 1357.1L1646.1 1356.93L1646.6 1355.99L1646.69 1355.82L1647.1 1355.06L1647.34 1354.61L1647.6 1355.09L1647.99 1355.82L1648.1 1356.03L1648.6 1356.97L1648.63 1357.1L1653.6 1357.1L1654.1 1356.88L1654.49 1356.74L1654.6 1355.59L1655.1 1350.19L1655.29 1348.14L1655.6 1344.83L1656.09 1339.72L1656.1 1339.82L1656.6 1345.08L1656.89 1348.19L1657.1 1350.45L1657.6 1355.85L1657.68 1356.71L1658.1 1356.89L1658.6 1357.1L1665.6 1357.1L1666.1 1356.88L1666.57 1356.67L1666.6 1356.29L1667.1 1350.03L1667.4 1346.27L1667.6 1343.77L1668.1 1337.63L1668.24 1335.99L1668.6 1340.37L1669.07 1346.19L1669.1 1346.57L1669.6 1352.84L1669.91 1356.7L1670.1 1356.78L1670.6 1356.95L1671.1 1357.1L1673.6 1357.1L1674.1 1356.92L1674.14 1356.89L1674.6 1354.46L1674.83 1353.25L1675.1 1351.84L1675.53 1349.65L1675.6 1350.01L1676.1 1352.59L1676.22 1353.22L1676.6 1355.21L1676.92 1356.89L1677.1 1356.91L1677.6 1356.92L1678.1 1356.83L1678.57 1356.56L1678.6 1356.1L1679.1 1348.32L1679.48 1342.4L1679.6 1340.53L1680.1 1332.84L1680.39 1328.54L1680.6 1331.69L1681.1 1339.35L1681.3 1342.46L1681.6 1347.14L1682.1 1354.93L1682.21 1356.64L1682.6 1356.84L1683.1 1357.1L1684.92 1357.1L1685.1 1356.58L1685.57 1355.49L1685.6 1355.42L1686.1 1354.27L1686.22 1353.99L1686.6 1354.86L1686.87 1355.49L1687.1 1356.02L1687.52 1357.1L1689.6 1357.1L1690.1 1356.82L1690.54 1356.51L1690.6 1355.23L1691.1 1344.43L1691.54 1334.85L1691.6 1333.55L1692.1 1322.79L1692.54 1313.64L1692.6 1314.88L1693.1 1325.43L1693.54 1334.94L1693.6 1336.25L1694.1 1347.12L1694.54 1356.56L1694.6 1356.6L1695.1 1356.88L1695.6 1357.1L1701.1 1357.1L1701.6 1356.94L1702.1 1356.68L1702.6 1356.16L1702.69 1355.95L1703.1 1338.53L1703.6 1317.1L1703.69 1313.24L1704.1 1295.77L1704.6 1274.93L1704.69 1271.41L1705.1 1288.36L1705.6 1309.56L1705.69 1313.42L1706.1 1331L1706.6 1352.31L1706.69 1356.03L1707.1 1356.53L1707.6 1356.87L1708.1 1357.1L1713.1 1357.1L1713.6 1356.94L1714.1 1356.65L1714.6 1356.03L1714.84 1355.46L1715.1 1339.81L1715.6 1309.43L1715.84 1294.81L1716.1 1279.04L1716.6 1249.18L1716.84 1235.4L1717.1 1250.59L1717.6 1280.49L1717.84 1295.06L1718.1 1310.89L1718.6 1341.26L1718.84 1355.58L1719.1 1356.07L1719.6 1356.67L1720.1 1356.94L1720.6 1357.1L1721.39 1357.1L1721.6 1356.75L1722.03 1356.13L1722.1 1356.04L1722.6 1355.33L1722.67 1355.24L1723.1 1355.84L1723.31 1356.13L1723.6 1356.55L1723.95 1357.1L1725.6 1357.1L1726.1 1356.76L1726.6 1356.25L1726.99 1355.44L1727.1 1348.77L1727.6 1318.18L1727.99 1294.18L1728.1 1287.42L1728.6 1257.04L1728.99 1234.16L1729.1 1240.62L1729.6 1270.57L1729.99 1294.42L1730.1 1301.19L1730.6 1331.92L1730.99 1355.57L1731.1 1355.79L1731.6 1356.52L1732.1 1356.89L1732.6 1357.1L1737.6 1357.1L1738.1 1356.86L1738.6 1356.48L1739.1 1355.72L1739.14 1355.53L1739.6 1328.89L1740.1 1299.69L1740.14 1297.36L1740.6 1270.68L1741.1 1242.37L1741.14 1240.37L1741.6 1266.32L1742.1 1295.25L1742.14 1297.59L1742.6 1324.46L1743.1 1353.46L1743.14 1355.65L1743.6 1356.39L1744.1 1356.82L1744.6 1357.1L1749.6 1357.1L1750.1 1356.96L1750.6 1356.72L1751.1 1356.22L1751.29 1355.85L1751.6 1341.55L1752.1 1318.29L1752.29 1309.43L1752.6 1295.05L1753.1 1272.26L1753.29 1263.96L1753.6 1277.85L1754.1 1300.79L1754.29 1309.62L1754.6 1324.07L1755.1 1347.28L1755.29 1355.94L1755.6 1356.37L1756.1 1356.8L1756.6 1357.1L1762.1 1357.1L1762.6 1356.95L1763.1 1356.74L1763.44 1356.45L1763.6 1352.62L1764.1 1340.55L1764.44 1332.31L1764.6 1328.44L1765.1 1316.5L1765.44 1308.67L1765.6 1312.38L1766.1 1324.21L1766.44 1332.41L1766.6 1336.29L1767.1 1348.39L1767.44 1356.5L1767.6 1356.62L1768.1 1356.89L1768.6 1357.1L1774.6 1357.1L1775.1 1356.93L1775.6 1356.72L1775.74 1356.64L1776.1 1350.89L1776.6 1342.85L1776.66 1341.89L1777.1 1334.87L1777.59 1327.3L1777.6 1327.45L1778.1 1335.25L1778.51 1341.79L1778.6 1343.23L1779.1 1351.27L1779.44 1356.65L1779.6 1356.73L1780.1 1356.93L1780.6 1357.1L1787.1 1357.1L1787.6 1356.97L1788.1 1356.86L1788.24 1356.81L1788.6 1353.89L1788.99 1350.69L1789.1 1349.8L1789.6 1345.77L1789.74 1344.69L1790.1 1347.56L1790.48 1350.65L1790.6 1351.63L1791.1 1355.74L1791.23 1356.8L1791.6 1356.91L1792.1 1357.1L1799.6 1357.1L1800.1 1356.92L1800.42 1356.84L1800.6 1355.48L1801.1 1351.73L1801.15 1351.35L1801.6 1348.01L1801.89 1345.93L1802.1 1347.46L1802.6 1351.16L1802.62 1351.31L1803.1 1354.91L1803.36 1356.84L1803.6 1356.9L1804.1 1357.1L1812.76 1357.1L1813.1 1356.56L1813.4 1356.13L1813.6 1355.85L1814.04 1355.24L1814.1 1355.32L1814.6 1356.02L1814.68 1356.14L1815.1 1356.74L1815.32 1357.1L1824.92 1357.1L1825.1 1356.89L1825.56 1356.45L1825.6 1356.41L1826.1 1355.94L1826.19 1355.86L1826.6 1356.25L1826.82 1356.45L1827.1 1356.72L1827.45 1357.1L1830.75 1357.1L1831.1 1356.73L1831.39 1356.45L1831.6 1356.25L1832.02 1355.86L1832.1 1355.93L1832.6 1356.41L1832.65 1356.45L1833.1 1356.89L1833.29 1357.1L1848.67 1357.1L1849.1 1355.61L1849.34 1354.84L1849.6 1354.01L1850 1352.76L1850.1 1353.06L1850.6 1354.64L1850.67 1354.86L1851.1 1356.24L1851.33 1357.1L1855.6 1357.1" fill="none" stroke="#000" stroke-width="1.85" stroke-linejoin="round"/>
<path d="M1601.6 1232.8 H1606.6 V1357.4 H1856" fill="none" stroke="#000" stroke-width="1.6" stroke-linejoin="miter" stroke-linecap="butt"/>
<line x1="1601.6" y1="1357.4" x2="1606.6" y2="1357.4" stroke="#000" stroke-width="1.6"/>
<text x="1599.1" y="1240" font-size="19.6" text-anchor="end" stroke="#000">100</text>
<text x="1596.6" y="1364.6" font-size="19.6" text-anchor="end" stroke="#000">0</text>
<line x1="1606.6" y1="1357.4" x2="1606.6" y2="1361.4" stroke="#000" stroke-width="1.6"/>
<line x1="1608.46" y1="1357.4" x2="1608.46" y2="1361.4" stroke="#000" stroke-width="1.6"/>
<line x1="1618.18" y1="1357.4" x2="1618.18" y2="1361.4" stroke="#000" stroke-width="1.6"/>
<line x1="1627.9" y1="1357.4" x2="1627.9" y2="1363.7" stroke="#000" stroke-width="1.6"/>
<line x1="1637.62" y1="1357.4" x2="1637.62" y2="1361.4" stroke="#000" stroke-width="1.6"/>
<line x1="1647.34" y1="1357.4" x2="1647.34" y2="1361.4" stroke="#000" stroke-width="1.6"/>
<line x1="1657.06" y1="1357.4" x2="1657.06" y2="1361.4" stroke="#000" stroke-width="1.6"/>
<line x1="1666.78" y1="1357.4" x2="1666.78" y2="1361.4" stroke="#000" stroke-width="1.6"/>
<line x1="1676.5" y1="1357.4" x2="1676.5" y2="1363.7" stroke="#000" stroke-width="1.6"/>
<line x1="1686.22" y1="1357.4" x2="1686.22" y2="1361.4" stroke="#000" stroke-width="1.6"/>
<line x1="1695.94" y1="1357.4" x2="1695.94" y2="1361.4" stroke="#000" stroke-width="1.6"/>
<line x1="1705.66" y1="1357.4" x2="1705.66" y2="1361.4" stroke="#000" stroke-width="1.6"/>
<line x1="1715.38" y1="1357.4" x2="1715.38" y2="1361.4" stroke="#000" stroke-width="1.6"/>
<line x1="1725.1" y1="1357.4" x2="1725.1" y2="1363.7" stroke="#000" stroke-width="1.6"/>
<line x1="1734.82" y1="1357.4" x2="1734.82" y2="1361.4" stroke="#000" stroke-width="1.6"/>
<line x1="1744.54" y1="1357.4" x2="1744.54" y2="1361.4" stroke="#000" stroke-width="1.6"/>
<line x1="1754.26" y1="1357.4" x2="1754.26" y2="1361.4" stroke="#000" stroke-width="1.6"/>
<line x1="1763.98" y1="1357.4" x2="1763.98" y2="1361.4" stroke="#000" stroke-width="1.6"/>
<line x1="1773.7" y1="1357.4" x2="1773.7" y2="1363.7" stroke="#000" stroke-width="1.6"/>
<line x1="1783.42" y1="1357.4" x2="1783.42" y2="1361.4" stroke="#000" stroke-width="1.6"/>
<line x1="1793.14" y1="1357.4" x2="1793.14" y2="1361.4" stroke="#000" stroke-width="1.6"/>
<line x1="1802.86" y1="1357.4" x2="1802.86" y2="1361.4" stroke="#000" stroke-width="1.6"/>
<line x1="1812.58" y1="1357.4" x2="1812.58" y2="1361.4" stroke="#000" stroke-width="1.6"/>
<line x1="1822.3" y1="1357.4" x2="1822.3" y2="1363.7" stroke="#000" stroke-width="1.6"/>
<line x1="1832.02" y1="1357.4" x2="1832.02" y2="1361.4" stroke="#000" stroke-width="1.6"/>
<line x1="1841.74" y1="1357.4" x2="1841.74" y2="1361.4" stroke="#000" stroke-width="1.6"/>
<line x1="1851.46" y1="1357.4" x2="1851.46" y2="1361.4" stroke="#000" stroke-width="1.6"/>
<text x="1856" y="1242.5" font-size="20.8" text-anchor="end" stroke="#000">DEG</text>
<text x="1856" y="1263.6" font-size="20.8" text-anchor="end" stroke="#000">NL: 1.85e5</text>
<text x="1627.9" y="1382.5" font-size="20.4" text-anchor="middle" stroke="#000" style="font-kerning:normal">1191</text>
<text x="1725.1" y="1382.5" font-size="20.4" text-anchor="middle" stroke="#000" style="font-kerning:normal">1193</text>
<text x="1822.3" y="1382.5" font-size="20.4" text-anchor="middle" stroke="#000" style="font-kerning:normal">1195</text>
<text x="1730.5" y="1401.5" font-size="20.8" text-anchor="middle" font-style="italic" stroke="#000">m/z</text>
</svg>
</body></html>
